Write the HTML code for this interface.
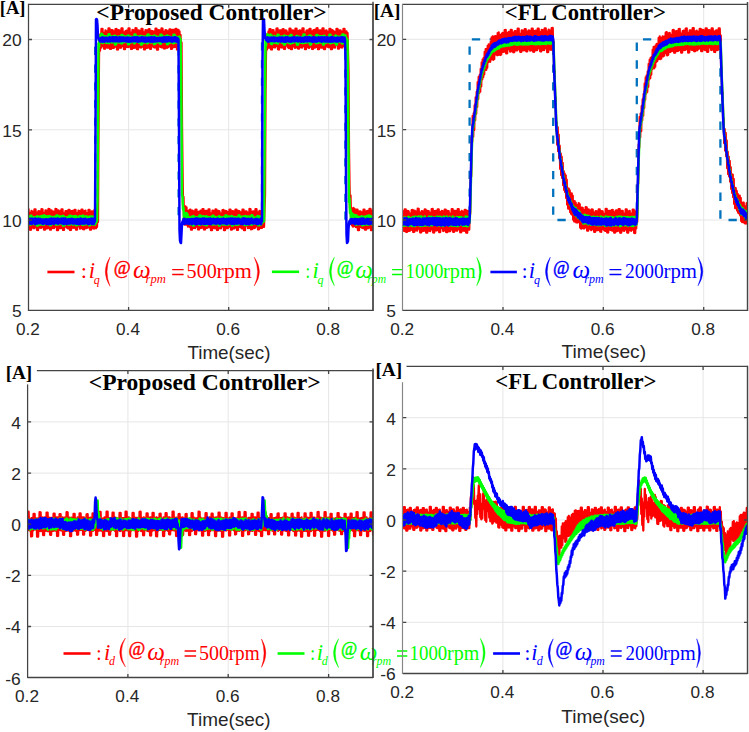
<!DOCTYPE html><html><head><meta charset="utf-8"><style>html,body{margin:0;padding:0;background:#fff;overflow:hidden}svg{display:block}</style></head><body>
<svg width="749" height="732" viewBox="0 0 749 732">
<defs><clipPath id="cTL"><rect x="28.5" y="4.3" width="344.5" height="306.1"/></clipPath><clipPath id="cTR"><rect x="402.7" y="4.4" width="344.8" height="306.0"/></clipPath><clipPath id="cBL"><rect x="27.6" y="370.6" width="345.4" height="306.9"/></clipPath><clipPath id="cBR"><rect x="402.8" y="366.4" width="344.7" height="307.1"/></clipPath></defs>
<rect width="749" height="732" fill="#fff"/>
<path d="M128.6 4.3V310.4M228.7 4.3V310.4M328.7 4.3V310.4M28.5 220.1H373.0M28.5 129.8H373.0M28.5 39.5H373.0" stroke="#e6e6e6" stroke-width="1" fill="none"/>
<path d="M503.0 4.4V310.4M603.3 4.4V310.4M703.7 4.4V310.4M402.7 220.0H747.5M402.7 129.7H747.5M402.7 39.3H747.5" stroke="#e6e6e6" stroke-width="1" fill="none"/>
<path d="M127.9 370.6V677.5M228.2 370.6V677.5M328.6 370.6V677.5M27.6 626.5H373.0M27.6 575.3H373.0M27.6 524.2H373.0M27.6 473.1H373.0M27.6 421.9H373.0" stroke="#e6e6e6" stroke-width="1" fill="none"/>
<path d="M502.9 366.4V673.5M603.0 366.4V673.5M703.1 366.4V673.5M402.8 622.3H747.5M402.8 571.2H747.5M402.8 520.0H747.5M402.8 468.8H747.5M402.8 417.7H747.5" stroke="#e6e6e6" stroke-width="1" fill="none"/>
<g clip-path="url(#cTL)"><path d="M28.5,220.1H95.2V39.5H178.6V220.1H262.0V39.5H345.4V220.1H375.0" fill="none" stroke="#0072bd" stroke-width="2.3" stroke-dasharray="8.3 9.45" stroke-dashoffset="16.65"/><polyline points="27.5,209.2 28,226.6 28.5,209.2 29,226.4 29.5,212.6 30,229.8 30.5,213.2 31,229.8 31.5,211 32,227.1 32.5,211.6 33,227.7 33.5,213.4 34,228.3 34.5,209.4 35,225.6 35.5,209.4 36,227.4 36.5,212.3 37,229.9 37.5,213.3 38,230.1 38.5,211.1 39,225.6 39.5,211.4 40,227.7 40.5,213.5 41,228 41.5,209.2 42,227.2 42.5,209.3 43,226.8 43.5,212.6 44,229.7 44.5,212.7 45,229.7 45.5,210.5 46,227.5 46.5,210.7 47,228.4 47.5,213 48,228 48.5,208.9 49,225.7 49.5,209.1 50,229.6 50.5,211.9 51,229.6 51.5,210.4 52,227.2 52.5,211.3 53,227.9 53.5,211.8 54,228.2 54.5,211.7 55,226.3 55.5,209 56,226.8 56.5,209.2 57,230.1 57.5,213.4 58,230.1 58.5,210.4 59,227 59.5,211.1 60,228.1 60.5,213.4 61,228 61.5,209.4 62,225.9 62.5,209.4 63,229.9 63.5,213.2 64,229.9 64.5,213.3 65,226.8 65.5,211.2 66,226.4 66.5,211.1 67,227.8 67.5,211.7 68,228.4 68.5,209.9 69,227.3 69.5,209.9 70,230 70.5,211.9 71,229.9 71.5,211.1 72,227.5 72.5,211 73,227.8 73.5,212.1 74,227.8 74.5,209.8 75,225.7 75.5,209.9 76,229.6 76.5,213.1 77,229.6 77.5,212.9 78,226.4 78.5,210.7 79,226.5 79.5,211.1 80,228.7 80.5,213.2 81,228.1 81.5,209.6 82,227.1 82.5,209.7 83,229.2 83.5,212.1 84,229.4 84.5,211.2 85,227.4 85.5,210.6 86,228.3 86.5,212.8 87,227.9 87.5,213.5 88,227.4 88.5,210 89,226.9 89.5,210 90,229.6 90.5,212.4 91,229.6 91.5,211.3 92,226.9 92.5,211.4 93,228.1 93.5,212.5 94,228.6 94.5,209.8 95,226.1 95.5,209.4 96,228.3 96.5,211.9 97,227 97.5,209.8 98,222.1 98.5,126.4 99,56.3 99.5,36 100,50.6 100.5,34.2 101,47.8 101.5,28.8 102,46.2 102.5,28.8 103,46.1 103.5,32.7 104,48.7 104.5,33 105,48.8 105.5,30.4 106,46.8 106.5,31.1 107,47.5 107.5,32 108,47.6 108.5,28.5 109,46.9 109.5,28.5 110,48.9 110.5,31.5 111,48.9 111.5,30.2 112,46.3 112.5,30.1 113,48 113.5,32.3 114,47.8 114.5,31.2 115,46.6 115.5,29.1 116,46.5 116.5,29 117,49.5 117.5,31.8 118,49.5 118.5,30.1 119,46.1 119.5,30.6 120,47.6 120.5,31 121,47.8 121.5,28.4 122,45.7 122.5,28.4 123,46.1 123.5,32.1 124,49.1 124.5,32.8 125,49.1 125.5,31.1 126,46.1 126.5,30.6 127,46.9 127.5,31.6 128,47.2 128.5,28.5 129,46.7 129.5,28.5 130,44.9 130.5,32.4 131,49 131.5,32.6 132,48.9 132.5,30 133,46.2 133.5,30.5 134,47.9 134.5,32.3 135,47.7 135.5,28.2 136,45.8 136.5,28.4 137,49.2 137.5,31.2 138,49.3 138.5,30.5 139,45.5 139.5,31 140,47.2 140.5,31.3 141,47.6 141.5,29 142,46.8 142.5,29 143,45.3 143.5,32.1 144,49.4 144.5,32.6 145,49.4 145.5,30.2 146,45.9 146.5,30.5 147,47.9 147.5,31 148,47.5 148.5,29.3 149,45 149.5,29.1 150,48.8 150.5,31.6 151,48.9 151.5,30.8 152,46.5 152.5,31.1 153,45.2 153.5,32.1 154,47.3 154.5,31.4 155,47.5 155.5,28.7 156,45 156.5,28.7 157,49.6 157.5,31.7 158,49.6 158.5,30.2 159,46.8 159.5,30.4 160,45.3 160.5,32.1 161,47.2 161.5,28.5 162,47.5 162.5,28.6 163,45.3 163.5,32.5 164,48.5 164.5,31.6 165,48.5 165.5,30.1 166,46.4 166.5,30.3 167,47.9 167.5,31.2 168,47.3 168.5,31.1 169,46.4 169.5,29.4 170,45.8 170.5,29.3 171,48.9 171.5,32.2 172,48.8 172.5,30 173,46.5 173.5,29.9 174,47.2 174.5,31.7 175,46.9 175.5,28.9 176,46.5 176.5,28.9 177,49.5 177.5,32.6 178,49.4 178.5,29.9 179,47.3 179.5,31.5 180,48.3 180.5,34.8 181,51.1 181.5,42.3 182,124.5 182.5,168.6 183,205.3 183.5,196.9 184,219.5 184.5,207.3 185,224.8 185.5,206.3 186,221.9 186.5,207.4 187,224.9 187.5,210.9 188,226.7 188.5,212.3 189,225.4 189.5,209.8 190,227 190.5,209.7 191,229.7 191.5,211.7 192,229.7 192.5,210.6 193,225.7 193.5,211.3 194,227.9 194.5,213 195,228.2 195.5,209.6 196,226.6 196.5,209.6 197,226.6 197.5,213 198,229.4 198.5,211.9 199,229.5 199.5,211.6 200,227.2 200.5,210.7 201,228 201.5,212.5 202,227.7 202.5,209.2 203,226.5 203.5,209.2 204,229.5 204.5,211.7 205,229.5 205.5,211 206,227.1 206.5,210.9 207,227.9 207.5,212.2 208,227.4 208.5,209.5 209,226.3 209.5,209.5 210,227.4 210.5,213.1 211,230.2 211.5,213.3 212,230.2 212.5,210.6 213,227.3 213.5,210.9 214,228 214.5,213.2 215,228.3 215.5,209.5 216,225.8 216.5,209.6 217,230 217.5,213.2 218,229.9 218.5,211 219,226.2 219.5,211.3 220,228.2 220.5,213.4 221,228.4 221.5,213.4 222,226.5 222.5,210.1 223,225.9 223.5,210 224,230.2 224.5,212.9 225,230.2 225.5,210.8 226,225.8 226.5,211.1 227,228.1 227.5,212.3 228,228 228.5,211.9 229,226.7 229.5,209.6 230,226 230.5,209.6 231,229.6 231.5,211.8 232,229.5 232.5,211.2 233,227.4 233.5,211.3 234,228.5 234.5,211.8 235,227.6 235.5,209.6 236,227 236.5,209.6 237,229.9 237.5,211.9 238,229.9 238.5,210.8 239,225.8 239.5,211.3 240,226.9 240.5,213.6 241,227.6 241.5,212.2 242,228.4 242.5,209.6 243,225.7 243.5,209.6 244,230.1 244.5,212.6 245,230.1 245.5,211.3 246,225.7 246.5,211.4 247,225.6 247.5,212.5 248,228.2 248.5,212.5 249,227.9 249.5,209 250,225.9 250.5,209.2 251,229.4 251.5,211.8 252,229.1 252.5,211.7 253,227.4 253.5,211.3 254,228.2 254.5,212.9 255,227.8 255.5,209.2 256,226.4 256.5,209.2 257,225.5 257.5,212.2 258,229.4 258.5,213.2 259,229.3 259.5,210.8 260,226.3 260.5,211.4 261,228 261.5,212.6 262,227.9 262.5,209.2 263,225.8 263.5,207.9 264,226.9 264.5,209.1 265,195.2 265.5,92.1 266,52.5 266.5,34.8 267,49.5 267.5,33.6 268,47.7 268.5,31.5 269,47.6 269.5,29.2 270,45.7 270.5,29.2 271,49.4 271.5,31.6 272,49.5 272.5,30.2 273,45.7 273.5,30.2 274,47.1 274.5,32.3 275,47.5 275.5,33 276,45.6 276.5,28.6 277,46.2 277.5,28.5 278,49.3 278.5,31.7 279,49.5 279.5,30.3 280,46 280.5,30.5 281,47.3 281.5,31 282,47.5 282.5,29.3 283,46.4 283.5,29.2 284,48.9 284.5,31.8 285,49 285.5,30.5 286,45.7 286.5,30.7 287,45.3 287.5,32.3 288,47.4 288.5,32.5 289,48.1 289.5,28.7 290,45.9 290.5,28.7 291,49.2 291.5,31 292,49.2 292.5,30.3 293,45.1 293.5,30.6 294,46.4 294.5,32.9 295,47.9 295.5,28.6 296,47.4 296.5,28.6 297,45.9 297.5,31.8 298,48.5 298.5,31.1 299,48.6 299.5,30.5 300,46.1 300.5,30.6 301,47.3 301.5,31.7 302,47.6 302.5,28.4 303,46.3 303.5,28.4 304,44.9 304.5,32.5 305,49.2 305.5,32.7 306,49.2 306.5,30.7 307,46.7 307.5,30.3 308,47.2 308.5,31 309,48 309.5,28.8 310,46.7 310.5,28.8 311,45.9 311.5,31.1 312,48.9 312.5,32 313,49 313.5,30.2 314,45.8 314.5,29.9 315,47.6 315.5,31.8 316,46.9 316.5,28.3 317,45.8 317.5,28.2 318,49.1 318.5,31.9 319,49.1 319.5,30.4 320,46.2 320.5,30.3 321,47.5 321.5,31.8 322,47.6 322.5,28.4 323,46 323.5,28.5 324,49.2 324.5,31.5 325,49.2 325.5,31 326,46.7 326.5,30.3 327,46.2 327.5,32.3 328,47 328.5,31.6 329,47.3 329.5,28.8 330,46.2 330.5,28.8 331,49.3 331.5,32.5 332,49.2 332.5,30.1 333,46.7 333.5,31 334,47.4 334.5,32.5 335,47.7 335.5,31.8 336,45.1 336.5,28.9 337,45.1 337.5,28.9 338,48.7 338.5,31.9 339,48.7 339.5,30.3 340,45.9 340.5,30.4 341,47.1 341.5,31.5 342,47.7 342.5,32.9 343,45.2 343.5,28.8 344,46.2 344.5,28.8 345,49.2 345.5,32.3 346,49.9 346.5,31.5 347,47.7 347.5,32.9 348,51.2 348.5,71.4 349,149.6 349.5,184.6 350,208.5 350.5,195.5 351,218.4 351.5,208.3 352,225.4 352.5,209.4 353,226.6 353.5,208 354,224.1 354.5,208.9 355,226.3 355.5,211.3 356,227.2 356.5,209.7 357,226.8 357.5,209.7 358,230.2 358.5,212.2 359,230.1 359.5,211.4 360,225.8 360.5,211.3 361,227 361.5,212.9 362,227.8 362.5,212.2 363,228.2 363.5,209.7 364,227.4 364.5,209.7 365,229.7 365.5,212 366,229.7 366.5,211.5 367,226.3 367.5,210.8 368,228.3 368.5,213.1 369,227.7 369.5,208.9 370,226.2 370.5,208.9 371,230.2 371.5,213.2 372,230.1 372.5,210.7 373,226.6 373.5,210.6 374,226.6" fill="none" stroke="#ff0000" stroke-width="2.3" stroke-linejoin="round"/><polyline points="27.5,216.6 28,223.7 28.5,216.8 29,224.5 29.5,217.8 30,224.5 30.5,215.7 31,224.4 31.5,215.7 32,224 32.5,217.6 33,224 33.5,217.4 34,224 34.5,217.3 35,224.2 35.5,217.8 36,224.2 36.5,216.7 37,225.4 37.5,216.3 38,225.4 38.5,217.1 39,224.1 39.5,216.7 40,224.4 40.5,216.6 41,223.9 41.5,216.1 42,224.5 42.5,216.4 43,224.6 43.5,215.6 44,224.7 44.5,215.6 45,224 45.5,217 46,223.8 46.5,216.3 47,223.6 47.5,217.8 48,224.3 48.5,216.3 49,224.3 49.5,216.1 50,225.3 50.5,216.4 51,225.2 51.5,217.7 52,223.3 52.5,217.1 53,223.9 53.5,217.2 54,223.2 54.5,216.7 55,224 55.5,217.4 56,224.6 56.5,215.6 57,224.5 57.5,215.6 58,224.6 58.5,216.2 59,224.2 59.5,216.4 60,223.8 60.5,216.5 61,223.4 61.5,216.6 62,224 62.5,215.9 63,225.6 63.5,216 64,225.6 64.5,216.9 65,224.7 65.5,217.9 66,223.5 66.5,217.3 67,223.6 67.5,217.8 68,224.6 68.5,216.4 69,224.5 69.5,215.8 70,224.6 70.5,215.8 71,223.1 71.5,216.3 72,223.6 72.5,217 73,224.7 73.5,216.2 74,223.9 74.5,217.5 75,223.6 75.5,215.9 76,225.2 76.5,216.6 77,225.2 77.5,217.2 78,223.9 78.5,217.6 79,224.6 79.5,216.1 80,223.4 80.5,216.8 81,223.4 81.5,216.3 82,224.4 82.5,215.8 83,224.9 83.5,215.8 84,224.6 84.5,216.4 85,224.3 85.5,217.6 86,224.3 86.5,216.2 87,223.8 87.5,217.7 88,223.4 88.5,217.3 89,225.2 89.5,216.6 90,225.2 90.5,216.5 91,224.2 91.5,216.5 92,223.7 92.5,216.7 93,224.6 93.5,216.8 94,223.5 94.5,217.3 95,224.7 95.5,214.9 96,223 96.5,213.2 97,221.2 97.5,199.9 98,120.7 98.5,43.6 99,46.8 99.5,39.5 100,42.2 100.5,34.9 101,40 101.5,33.7 102,42.5 102.5,34.4 103,43.1 103.5,36.3 104,41.3 104.5,36.3 105,41.6 105.5,36.2 106,42.9 106.5,37.4 107,42.2 107.5,36.4 108,43.1 108.5,34.4 109,43.2 109.5,34.3 110,42.3 110.5,36.6 111,42.1 111.5,36.5 112,42.6 112.5,36.7 113,42.3 113.5,36.3 114,42.5 114.5,35.8 115,44.5 115.5,36 116,44.5 116.5,37.2 117,42.4 117.5,37.1 118,42.2 118.5,36.4 119,42.6 119.5,36.4 120,41.9 120.5,36.8 121,43.2 121.5,34.9 122,43.4 122.5,35 123,42.4 123.5,36.5 124,42.3 124.5,36.2 125,41.8 125.5,37.2 126,41.6 126.5,36.8 127,42.2 127.5,35.8 128,44.3 128.5,35.5 129,44.2 129.5,36.2 130,42.3 130.5,36.7 131,42.6 131.5,37.1 132,41.8 132.5,37 133,41.6 133.5,37 134,43.4 134.5,34.6 135,43.2 135.5,34.6 136,41.7 136.5,36.3 137,41.8 137.5,37.1 138,41.8 138.5,36.5 139,42.7 139.5,36.4 140,41.6 140.5,35.9 141,44.5 141.5,36 142,44.5 142.5,37.4 143,42.2 143.5,36.4 144,42.9 144.5,37.2 145,42.2 145.5,36.4 146,41.6 146.5,37.1 147,43.5 147.5,34.7 148,43.1 148.5,34.6 149,42.1 149.5,37.3 150,41.6 150.5,36.1 151,42.6 151.5,36.4 152,41.9 152.5,37.1 153,42.3 153.5,36 154,44.1 154.5,35.5 155,44.1 155.5,37 156,42.9 156.5,36.6 157,41.6 157.5,36.9 158,42.5 158.5,37.4 159,42 159.5,36.5 160,43.7 160.5,34.7 161,43.7 161.5,34.7 162,42.1 162.5,36.3 163,42.1 163.5,36.4 164,41.9 164.5,37 165,41.8 165.5,36.7 166,41.8 166.5,35.7 167,44.1 167.5,35.6 168,44.2 168.5,36.8 169,42.9 169.5,36.5 170,42.7 170.5,37.2 171,42.1 171.5,37.3 172,42.5 172.5,36.9 173,43.2 173.5,34.7 174,43.2 174.5,34.7 175,42.1 175.5,36.2 176,42.5 176.5,37.1 177,42.1 177.5,37.2 178,42.8 178.5,36.9 179,44.1 179.5,36.6 180,46.6 180.5,38.9 181,70.6 181.5,125.8 182,195.4 182.5,196.3 183,209.2 183.5,207.6 184,218.7 184.5,213.1 185,219.6 185.5,213.8 186,221.1 186.5,213.1 187,222.7 187.5,214.2 188,222.7 188.5,216.8 189,224 189.5,217.6 190,224.3 190.5,217.4 191,224.3 191.5,216.7 192,223.3 192.5,216.6 193,225.5 193.5,216.1 194,225.5 194.5,217.2 195,224.6 195.5,217.5 196,223.6 196.5,217.3 197,223.4 197.5,217.8 198,223.1 198.5,216.8 199,224.7 199.5,215.5 200,225 200.5,215.4 201,224.2 201.5,216.3 202,223.4 202.5,216.7 203,224.2 203.5,216.2 204,224.6 204.5,217.5 205,224.2 205.5,216.6 206,225.3 206.5,216.3 207,225.2 207.5,217.2 208,223.6 208.5,217 209,223.5 209.5,217.6 210,223.8 210.5,217 211,223.4 211.5,216.7 212,224.3 212.5,215.7 213,224.4 213.5,215.7 214,223.3 214.5,216.9 215,224.3 215.5,216.9 216,224.3 216.5,217.8 217,223.7 217.5,217.2 218,223.2 218.5,216.4 219,225.6 219.5,216.3 220,225.5 220.5,217 221,223.6 221.5,217.4 222,223.1 222.5,217.3 223,224.6 223.5,216.9 224,223.5 224.5,216.7 225,224.5 225.5,215.6 226,224.8 226.5,215.6 227,223.7 227.5,216.9 228,224.7 228.5,216.5 229,224.1 229.5,216.8 230,223.8 230.5,217.1 231,223.5 231.5,216 232,225.4 232.5,216.4 233,225.4 233.5,217.8 234,223.3 234.5,217 235,223.6 235.5,217.2 236,224.8 236.5,217.6 237,223.4 237.5,217.5 238,224.8 238.5,215.6 239,224.3 239.5,215.6 240,223.7 240.5,217.4 241,223.9 241.5,216.7 242,224 242.5,216.8 243,224 243.5,216.4 244,224.7 244.5,216.5 245,225.1 245.5,216 246,225.1 246.5,216.6 247,224.3 247.5,216.7 248,224.7 248.5,216.4 249,223.3 249.5,216.8 250,223.9 250.5,216.9 251,224.5 251.5,215.3 252,224.8 252.5,215.4 253,223.5 253.5,217.4 254,223.6 254.5,217.6 255,224 255.5,217.6 256,223.2 256.5,217.7 257,223.2 257.5,216.1 258,225.2 258.5,216.3 259,225.3 259.5,217 260,223.3 260.5,216.4 261,224.6 261.5,217.8 262,223.5 262.5,216.9 263,222 263.5,215.4 264,221.2 264.5,164.5 265,88.1 265.5,40.6 266,45.6 266.5,37.6 267,41.6 267.5,34.3 268,40.5 268.5,35.3 269,41.1 269.5,35.4 270,41.7 270.5,34.6 271,43.6 271.5,35.3 272,44.1 272.5,37.1 273,41.8 273.5,37.4 274,42.4 274.5,36.1 275,42.9 275.5,37.3 276,42.5 276.5,36.9 277,43.3 277.5,34.7 278,43.6 278.5,34.7 279,41.6 279.5,36.5 280,41.7 280.5,37.4 281,42 281.5,36.4 282,42.9 282.5,37.3 283,42 283.5,35.9 284,44.6 284.5,35.6 285,44.6 285.5,37 286,42.7 286.5,36.3 287,41.9 287.5,36.9 288,42.4 288.5,36.4 289,42.9 289.5,36.9 290,43.5 290.5,34.9 291,43.5 291.5,34.9 292,41.8 292.5,37.3 293,42.8 293.5,37.1 294,42.2 294.5,37.3 295,42 295.5,37.4 296,42.3 296.5,36.1 297,44.6 297.5,36 298,44.7 298.5,36.8 299,42.1 299.5,37.1 300,41.6 300.5,37.4 301,42.8 301.5,37 302,41.7 302.5,37.2 303,43.3 303.5,34.5 304,43.1 304.5,34.5 305,42.2 305.5,36.9 306,42.7 306.5,36.9 307,41.6 307.5,36.7 308,42.5 308.5,36.6 309,41.9 309.5,35.4 310,44.5 310.5,35.4 311,44.5 311.5,36.3 312,42.6 312.5,37.2 313,41.6 313.5,37.2 314,41.7 314.5,37.3 315,42.1 315.5,36.4 316,43.3 316.5,34.9 317,43.1 317.5,35 318,42.9 318.5,37.4 319,42.3 319.5,36.3 320,42.6 320.5,36.4 321,42.1 321.5,36.3 322,42.7 322.5,36.4 323,44.4 323.5,36 324,44.4 324.5,35.8 325,42.5 325.5,37.1 326,42.8 326.5,37.4 327,42.4 327.5,37.1 328,42.1 328.5,36.9 329,42.5 329.5,34.7 330,43.2 330.5,34.7 331,43.2 331.5,37.1 332,42.8 332.5,37 333,41.7 333.5,37 334,42.6 334.5,37.2 335,42.6 335.5,35.6 336,44.5 336.5,35.9 337,44.5 337.5,37.2 338,42 338.5,36.8 339,41.6 339.5,36.8 340,42.1 340.5,37 341,42.3 341.5,36.1 342,43.3 342.5,34.4 343,43.4 343.5,34.4 344,41.7 344.5,36.1 345,42.1 345.5,35.4 346,43.4 346.5,38 347,45.9 347.5,40 348,94.2 348.5,150.9 349,202 349.5,198.6 350,213 350.5,209.6 351,219.8 351.5,213.1 352,220.2 352.5,213.8 353,221.3 353.5,215.2 354,222.4 354.5,215.1 355,223.9 355.5,215.3 356,224.7 356.5,215.4 357,224.3 357.5,216.4 358,224.3 358.5,217.1 359,224.2 359.5,217.1 360,223.7 360.5,217.5 361,224.1 361.5,216.2 362,225.2 362.5,216.7 363,225.2 363.5,217.1 364,224.1 364.5,216.8 365,224.7 365.5,217.6 366,223.9 366.5,216.1 367,224.3 367.5,217.3 368,224.8 368.5,215.6 369,224.5 369.5,215.7 370,223.3 370.5,216.1 371,223.9 371.5,217.5 372,224.5 372.5,216.7 373,224.7 373.5,216.4 374,224.4" fill="none" stroke="#00ff00" stroke-width="2.5" stroke-linejoin="round"/><polyline points="27.5,219.3 28,223.9 28.5,219.7 29,223.2 29.5,218.9 30,223.8 30.5,218.8 31,223.3 31.5,218.7 32,223.9 32.5,218.8 33,223.1 33.5,219.2 34,223 34.5,218.7 35,224.2 35.5,218.6 36,223 36.5,219.3 37,223.7 37.5,219.1 38,223.1 38.5,218.7 39,223.3 39.5,219.1 40,223.1 40.5,219 41,223.1 41.5,219.7 42,223.6 42.5,219.4 43,224 43.5,219.5 44,223.5 44.5,219.7 45,223.2 45.5,219.2 46,223.7 46.5,219.2 47,224.1 47.5,219.6 48,224.1 48.5,219.6 49,224.2 49.5,219.1 50,223.5 50.5,219 51,224.1 51.5,218.5 52,223.5 52.5,219.8 53,223.2 53.5,218.7 54,223.9 54.5,218.8 55,223.2 55.5,219.1 56,223 56.5,219.6 57,223.3 57.5,218.5 58,223.8 58.5,218.7 59,223 59.5,219.2 60,223.1 60.5,219.4 61,223.1 61.5,218.6 62,223.4 62.5,219.1 63,223.8 63.5,218.6 64,224.2 64.5,219 65,223.6 65.5,218.6 66,223.5 66.5,219.4 67,223.9 67.5,219.4 68,223.4 68.5,219.2 69,223.6 69.5,219.3 70,223.5 70.5,219.2 71,223 71.5,218.7 72,223 72.5,219.1 73,223.7 73.5,219.3 74,223.2 74.5,219.6 75,223.4 75.5,219.4 76,223.6 76.5,219.5 77,223.9 77.5,219.1 78,223 78.5,219.2 79,224.2 79.5,219.8 80,223.7 80.5,218.5 81,223.4 81.5,219 82,223.4 82.5,219.4 83,223.7 83.5,219 84,223.4 84.5,219.1 85,223.6 85.5,218.8 86,223 86.5,219.7 87,223.3 87.5,219.4 88,224 88.5,219.2 89,224.1 89.5,219.3 90,223.3 90.5,218.9 91,223.1 91.5,218.5 92,224 92.5,219.3 93,223.4 93.5,218.7 94,224 94.5,218.9 95,221.6 95.5,126.7 96,19.5 96.5,19 97,19.6 97.5,25.4 98,37.5 98.5,38.2 99,39.5 99.5,39.2 100,41.4 100.5,38.2 101,41.6 101.5,37.8 102,41.5 102.5,37.2 103,41.8 103.5,38.1 104,41.6 104.5,37.7 105,41.6 105.5,37.8 106,41.3 106.5,37.7 107,40.9 107.5,37.9 108,41.6 108.5,38.1 109,40.9 109.5,37.3 110,41.5 110.5,37.6 111,40.9 111.5,38.1 112,41.1 112.5,37.2 113,41.4 113.5,37.2 114,41 114.5,37.8 115,41.4 115.5,37.3 116,40.9 116.5,37.3 117,41.3 117.5,38.2 118,41.2 118.5,37.8 119,41.5 119.5,37.2 120,41.3 120.5,37.5 121,41.2 121.5,37.4 122,40.9 122.5,37.4 123,41 123.5,37.6 124,41 124.5,37.8 125,41 125.5,37.8 126,41.4 126.5,37.7 127,41.2 127.5,37.6 128,41.7 128.5,37.8 129,41.4 129.5,37.7 130,41.8 130.5,37.9 131,41.5 131.5,38 132,41.1 132.5,37.4 133,41.4 133.5,37.9 134,40.9 134.5,37.3 135,41.2 135.5,37.5 136,41.2 136.5,37.6 137,41.4 137.5,37.2 138,41.8 138.5,37.7 139,41.3 139.5,38 140,41.6 140.5,38.1 141,41.1 141.5,37.3 142,40.8 142.5,37.5 143,41.4 143.5,37.6 144,41.1 144.5,38 145,41.8 145.5,37.4 146,41.6 146.5,38.1 147,41.6 147.5,38 148,41 148.5,37.6 149,41.4 149.5,38.1 150,41.6 150.5,37.6 151,41.7 151.5,37.2 152,41.5 152.5,37.8 153,41.8 153.5,37.4 154,41.1 154.5,37.3 155,41.6 155.5,37.9 156,41.1 156.5,38.2 157,41.4 157.5,37.9 158,41.1 158.5,37.9 159,40.9 159.5,37.7 160,41.1 160.5,37.9 161,41.1 161.5,37.7 162,41.7 162.5,38 163,41.7 163.5,37.3 164,41.4 164.5,37.6 165,41.6 165.5,37.6 166,41.5 166.5,37.2 167,41.6 167.5,37.9 168,40.8 168.5,37.2 169,41.2 169.5,37.4 170,41 170.5,37.7 171,41.2 171.5,37.4 172,41.8 172.5,37.7 173,41.4 173.5,37.8 174,41 174.5,37.2 175,40.9 175.5,37.2 176,41.5 176.5,38.1 177,41.7 177.5,38.1 178,41.4 178.5,39.3 179,129.9 179.5,230.4 180,240.7 180.5,242.5 181,243 181.5,233.5 182,223.6 182.5,221.5 183,221.7 183.5,218.9 184,224.1 184.5,218.8 185,223.6 185.5,219.7 186,223.6 186.5,219.5 187,223.6 187.5,219.3 188,223.6 188.5,219.5 189,223.9 189.5,219.2 190,223.6 190.5,219.7 191,223.6 191.5,219 192,224.2 192.5,219 193,223.1 193.5,219.4 194,223.4 194.5,218.9 195,224.2 195.5,218.5 196,224.2 196.5,218.6 197,224.1 197.5,218.6 198,223 198.5,219.1 199,223.7 199.5,218.9 200,223.8 200.5,219 201,224.2 201.5,219.7 202,223.6 202.5,218.5 203,223 203.5,219.6 204,224.1 204.5,218.5 205,223 205.5,219.7 206,224 206.5,218.9 207,223.6 207.5,219 208,223.9 208.5,218.7 209,223 209.5,219.7 210,224 210.5,218.5 211,224 211.5,219.2 212,223.4 212.5,219.3 213,223 213.5,218.8 214,223.3 214.5,219 215,223.6 215.5,219.3 216,223.8 216.5,219.2 217,223.3 217.5,218.6 218,223.2 218.5,219.6 219,223.3 219.5,219.2 220,224 220.5,219.3 221,223.3 221.5,218.9 222,223.3 222.5,219.1 223,223.3 223.5,218.6 224,223.2 224.5,219.5 225,223.3 225.5,219.3 226,223.9 226.5,218.9 227,224 227.5,219.1 228,223.1 228.5,218.8 229,223.3 229.5,219.5 230,223.5 230.5,218.5 231,223.4 231.5,219.3 232,224.1 232.5,218.5 233,223.5 233.5,219.6 234,224 234.5,218.8 235,223.4 235.5,218.7 236,223.4 236.5,219.4 237,223.7 237.5,218.8 238,223.6 238.5,218.7 239,223 239.5,219.1 240,223.4 240.5,219.7 241,224.1 241.5,219.6 242,223.2 242.5,218.6 243,224.2 243.5,218.6 244,223.4 244.5,218.6 245,223.1 245.5,218.8 246,224.2 246.5,219.5 247,223.1 247.5,218.9 248,224.1 248.5,218.8 249,224.2 249.5,219.2 250,223.4 250.5,219.6 251,223.3 251.5,218.6 252,223 252.5,219.5 253,223.4 253.5,219.7 254,223.4 254.5,219.5 255,223.1 255.5,219.1 256,223.7 256.5,219 257,223.9 257.5,219.1 258,224.2 258.5,219.7 259,223.2 259.5,219.7 260,223.4 260.5,218.8 261,224.2 261.5,219.1 262,221.6 262.5,59.4 263,19.6 263.5,19 264,19.6 264.5,30 265,38.2 265.5,38.4 266,39.8 266.5,39.2 267,41 267.5,37.2 268,41.8 268.5,38.2 269,41.6 269.5,37.8 270,40.8 270.5,38 271,41 271.5,37.4 272,41 272.5,38.2 273,41 273.5,37.4 274,41.3 274.5,37.5 275,41.3 275.5,38 276,40.8 276.5,37.9 277,40.8 277.5,37.9 278,41.4 278.5,37.8 279,41.3 279.5,37.5 280,41.1 280.5,37.8 281,41.7 281.5,37.6 282,41.2 282.5,37.6 283,41.3 283.5,37.9 284,41.8 284.5,38 285,41.8 285.5,37.3 286,41.7 286.5,38 287,41.3 287.5,37.2 288,41.1 288.5,38 289,41.6 289.5,38 290,41.4 290.5,38 291,41.8 291.5,37.9 292,40.9 292.5,37.5 293,41.2 293.5,37.6 294,41.3 294.5,37.2 295,41.3 295.5,37.8 296,40.8 296.5,37.7 297,41.1 297.5,37.6 298,41.5 298.5,37.7 299,40.9 299.5,37.7 300,41.3 300.5,37.5 301,41.8 301.5,37.9 302,41.3 302.5,38.1 303,41.6 303.5,38 304,41.7 304.5,37.4 305,41.1 305.5,37.3 306,41.3 306.5,37.8 307,41.4 307.5,37.2 308,41.3 308.5,37.7 309,41.1 309.5,37.3 310,41.3 310.5,37.8 311,41 311.5,38 312,41.7 312.5,37.4 313,41.8 313.5,37.2 314,41.5 314.5,37.4 315,41.5 315.5,37.4 316,41.6 316.5,38 317,41.7 317.5,37.9 318,41 318.5,37.2 319,40.8 319.5,37.7 320,41.2 320.5,37.4 321,41.4 321.5,37.2 322,41.8 322.5,37.5 323,40.9 323.5,37.5 324,40.9 324.5,37.2 325,41.7 325.5,37.9 326,41 326.5,37.5 327,41.6 327.5,37.2 328,41.4 328.5,38.1 329,41.6 329.5,38.1 330,41.7 330.5,37.4 331,41.6 331.5,37.3 332,41.4 332.5,37.2 333,41.5 333.5,37.7 334,41.2 334.5,37.8 335,40.8 335.5,38 336,41.6 336.5,38 337,41.5 337.5,37.4 338,41.5 338.5,37.7 339,41.1 339.5,37.9 340,41 340.5,37.5 341,41.5 341.5,37.2 342,41.1 342.5,37.2 343,41.8 343.5,37.9 344,41.8 344.5,37.6 345,39.9 345.5,58.1 346,177.2 346.5,234.3 347,243 347.5,242.4 348,241 348.5,228.6 349,223.1 349.5,221.1 350,223.9 350.5,219.5 351,223.2 351.5,219 352,223.3 352.5,219.3 353,223 353.5,219.7 354,223.4 354.5,219.1 355,224.2 355.5,218.9 356,223.5 356.5,219.2 357,223.3 357.5,219.2 358,224.2 358.5,219.6 359,223.5 359.5,218.9 360,223.9 360.5,219.1 361,223.8 361.5,218.6 362,224.1 362.5,219.4 363,223.7 363.5,218.5 364,223.6 364.5,219.5 365,223.9 365.5,219.7 366,223.1 366.5,219.1 367,223.3 367.5,218.8 368,223.9 368.5,219.4 369,224 369.5,218.9 370,223.9 370.5,219.2 371,223.5 371.5,219.6 372,223.6 372.5,218.5 373,224.1 373.5,219.7 374,223" fill="none" stroke="#0000ff" stroke-width="2.5" stroke-linejoin="round"/></g>
<g clip-path="url(#cTR)"><path d="M402.7,220.0H469.6V39.3H553.2V220.0H636.8V39.3H720.4V220.0H749.5" fill="none" stroke="#0072bd" stroke-width="2.3" stroke-dasharray="8.3 9.45" stroke-dashoffset="16.4"/><polyline points="401.7,211.2 402.2,229.3 402.7,211.1 403.2,230.5 403.7,213.2 404.2,231 404.7,209.3 405.2,228.6 405.7,209.3 406.2,232 406.7,212.8 407.2,231.8 407.7,210.9 408.2,228 408.7,211.5 409.2,230.9 409.7,214.1 410.2,230.5 410.7,213.3 411.2,228.8 411.7,210.1 412.2,229.9 412.7,209.8 413.2,232 413.7,212.8 414.2,231.9 414.7,210.6 415.2,228 415.7,211.3 416.2,230.4 416.7,212.2 417.2,230.7 417.7,208.7 418.2,228.6 418.7,208.9 419.2,228.3 419.7,212.4 420.2,232.5 420.7,213.2 421.2,232.4 421.7,211.2 422.2,228.8 422.7,211.3 423.2,230.9 423.7,213.2 424.2,230.6 424.7,209.5 425.2,228.8 425.7,209.6 426.2,232.7 426.7,213.2 427.2,232.7 427.7,211 428.2,229.9 428.7,211.1 429.2,230.8 429.7,212.7 430.2,231.2 430.7,213.5 431.2,229.4 431.7,209.1 432.2,229.2 432.7,209 433.2,232.5 433.7,212.7 434.2,232.5 434.7,211.1 435.2,228.9 435.7,210.8 436.2,230.5 436.7,212.6 437.2,230.1 437.7,209.3 438.2,229.5 438.7,209.3 439.2,232.1 439.7,213.7 440.2,232 440.7,211.9 441.2,228.2 441.7,211 442.2,227.9 442.7,211.4 443.2,231 443.7,212.3 444.2,230.5 444.7,209.7 445.2,229.3 445.7,209.7 446.2,232.2 446.7,212.9 447.2,232.1 447.7,211 448.2,229 448.7,211.2 449.2,231.3 449.7,213.9 450.2,231.1 450.7,213.4 451.2,229.4 451.7,209.2 452.2,228.3 452.7,209.2 453.2,231.9 453.7,213.1 454.2,231.8 454.7,210.9 455.2,229.7 455.7,210.8 456.2,230.5 456.7,212.4 457.2,230.7 457.7,209.2 458.2,229.1 458.7,209.2 459.2,228.9 459.7,211.9 460.2,232.3 460.7,212 461.2,232.3 461.7,211 462.2,227.9 462.7,211.6 463.2,230.7 463.7,212.6 464.2,230.8 464.7,210 465.2,228.3 465.7,210 466.2,232.7 466.7,214.1 467.2,232.8 467.7,210.8 468.2,228.1 468.7,211.1 469.2,229.7 469.7,212.1 470.2,213.8 470.7,177.1 471.2,176.4 471.7,138 472.2,141.7 472.7,115.8 473.2,136.7 473.7,113.4 474.2,130.1 474.7,105.3 475.2,120.1 475.7,97.4 476.2,113.8 476.7,92 477.2,106.9 477.7,82.1 478.2,99 478.7,76.9 479.2,93 479.7,75.1 480.2,91.7 480.7,68.8 481.2,86.6 481.7,62.4 482.2,79.5 482.7,59.5 483.2,77.3 483.7,58 484.2,74.4 484.7,51.9 485.2,69.4 485.7,49.1 486.2,69.9 486.7,49 487.2,67.8 487.7,45.8 488.2,62.2 488.7,44.4 489.2,61.7 489.7,45.2 490.2,61.8 490.7,42 491.2,59.4 491.7,37.3 492.2,55.5 492.7,36.3 493.2,59.8 493.7,39 494.2,59.2 494.7,36.5 495.2,54.5 495.7,36.2 496.2,52.9 496.7,38.8 497.2,55.3 497.7,33.1 498.2,54.9 498.7,32.5 499.2,51.1 499.7,36.9 500.2,55 500.7,35 501.2,54.5 501.7,33.7 502.2,51 502.7,32.9 503.2,51.9 503.7,34.6 504.2,51.7 504.7,30.1 505.2,49.8 505.7,29.9 506.2,53.4 506.7,34.5 507.2,53.3 507.7,32.8 508.2,49.2 508.7,31.9 509.2,48.9 509.7,34.4 510.2,51.6 510.7,30 511.2,51.1 511.7,29.8 512.2,49.8 512.7,32.5 513.2,52.3 513.7,32.5 514.2,52.2 514.7,31.1 515.2,48.3 515.7,31.2 516.2,50.4 516.7,32.7 517.2,50.4 517.7,28.6 518.2,49.1 518.7,28.7 519.2,47.8 519.7,33.7 520.2,51.8 520.7,33.6 521.2,51.9 521.7,30.3 522.2,47.9 522.7,30.7 523.2,50.4 523.7,31.8 524.2,50.2 524.7,29.2 525.2,48.9 525.7,29.2 526.2,51.3 526.7,32.3 527.2,51.4 527.7,31.3 528.2,49.2 528.7,30.3 529.2,47.3 529.7,31 530.2,50.7 530.7,32.3 531.2,50.3 531.7,28.7 532.2,49 532.7,28.7 533.2,51.8 533.7,33.3 534.2,51.8 534.7,31.2 535.2,47.3 535.7,30.7 536.2,50.1 536.7,33.1 537.2,50 537.7,28.7 538.2,47.9 538.7,28.7 539.2,48.2 539.7,32 540.2,51.3 540.7,32.3 541.2,51.4 541.7,29.9 542.2,47.3 542.7,30.2 543.2,50 543.7,32.5 544.2,50 544.7,28.3 545.2,46.8 545.7,28.3 546.2,48.2 546.7,32.7 547.2,52.1 547.7,31.4 548.2,52 548.7,29.6 549.2,47.9 549.7,30.4 550.2,49.5 550.7,32.5 551.2,49.8 551.7,28.1 552.2,48.4 552.7,27.9 553.2,52 553.7,41.7 554.2,78.7 554.7,71.1 555.2,100.9 555.7,97.5 556.2,130.3 556.7,122.4 557.2,144.8 557.7,127.2 558.2,151.2 558.7,134.7 559.2,158.3 559.7,145.7 560.2,169.1 560.7,153.5 561.2,175.1 561.7,156.7 562.2,178 562.7,162.8 563.2,185.1 563.7,171.1 564.2,190 564.7,173.7 565.2,192.1 565.7,175.4 566.2,198 566.7,179.7 567.2,204.7 567.7,188.5 568.2,208.6 568.7,188.6 569.2,208.3 569.7,190.5 570.2,212.1 570.7,194.7 571.2,213.9 571.7,193.4 572.2,214.8 572.7,195.7 573.2,219.8 573.7,201.8 574.2,221.5 574.7,201.2 575.2,218.1 575.7,202.7 576.2,222.4 576.7,205 577.2,222.5 577.7,206.5 578.2,222.2 578.7,203.1 579.2,222.2 579.7,204.1 580.2,227.7 580.7,207.9 581.2,228.6 581.7,207.6 582.2,225 582.7,208 583.2,228.3 583.7,210 584.2,228.4 584.7,211.7 585.2,226.8 585.7,207.1 586.2,227.4 586.7,207.3 587.2,230.7 587.7,211.1 588.2,230.7 588.7,209.4 589.2,226.9 589.7,210.3 590.2,228.8 590.7,213.2 591.2,230.1 591.7,209.3 592.2,227.3 592.7,209.6 593.2,229.2 593.7,212.5 594.2,231.9 594.7,214 595.2,231.8 595.7,211.1 596.2,228.2 596.7,211.3 597.2,230.1 597.7,212.7 598.2,230 598.7,209.3 599.2,228.9 599.7,209.4 600.2,231.7 600.7,212.9 601.2,231.9 601.7,211.1 602.2,228.8 602.7,211.5 603.2,229.1 603.7,213.7 604.2,230.2 604.7,214.2 605.2,230.9 605.7,209 606.2,228.6 606.7,209 607.2,232.5 607.7,213.9 608.2,232.5 608.7,211 609.2,228.6 609.7,211 610.2,229.8 610.7,214.1 611.2,230.1 611.7,210.1 612.2,230.7 612.7,209.9 613.2,229.3 613.7,212.1 614.2,232.6 614.7,213.3 615.2,232.5 615.7,210.7 616.2,228 616.7,210.5 617.2,231.1 617.7,212.2 618.2,230.7 618.7,209.1 619.2,229.9 619.7,209.2 620.2,232.8 620.7,212.2 621.2,232.7 621.7,210.9 622.2,229.2 622.7,210.8 623.2,230.5 623.7,213.3 624.2,230.9 624.7,213.9 625.2,229.5 625.7,209.5 626.2,229.1 626.7,209.5 627.2,232.6 627.7,212.8 628.2,232.6 628.7,211.4 629.2,229.7 629.7,210.8 630.2,230.3 630.7,213.4 631.2,230.8 631.7,213.7 632.2,229.6 632.7,209.6 633.2,229 633.7,209.6 634.2,233 634.7,214.2 635.2,233 635.7,211.5 636.2,228.4 636.7,210.7 637.2,221.9 637.7,185.3 638.2,183.5 638.7,144.5 639.2,147.8 639.7,116.9 640.2,137.6 640.7,113.6 641.2,131.2 641.7,106.2 642.2,120.5 642.7,99.4 643.2,115.6 643.7,94 644.2,108.1 644.7,83.4 645.2,99.8 645.7,77.5 646.2,93.4 646.7,75.4 647.2,91.9 647.7,71.6 648.2,86.9 648.7,63.9 649.2,79.5 649.7,59.7 650.2,78.2 650.7,57.8 651.2,74.7 651.7,56.9 652.2,69.3 652.7,49.7 653.2,68.2 653.7,46.8 654.2,68.3 654.7,47.5 655.2,66.6 655.7,45.4 656.2,61.9 656.7,43.8 657.2,61.1 657.7,44.3 658.2,59.3 658.7,37.8 659.2,56.5 659.7,36.5 660.2,59.2 660.7,38.8 661.2,58.6 661.7,37.7 662.2,54.9 662.7,36.4 663.2,56.4 663.7,37.7 664.2,55.6 664.7,36.5 665.2,53.2 665.7,32.7 666.2,51.7 666.7,32.1 667.2,55.4 667.7,35.6 668.2,54.8 668.7,33.4 669.2,50.1 669.7,33 670.2,52 670.7,34.6 671.2,51.3 671.7,35.2 672.2,50.4 672.7,30.2 673.2,51.1 673.7,30 674.2,52.8 674.7,34 675.2,52.7 675.7,31.5 676.2,49.2 676.7,31.2 677.2,51 677.7,33.7 678.2,50.8 678.7,29.1 679.2,50.1 679.7,28.9 680.2,48.6 680.7,33.9 681.2,52.6 681.7,33.5 682.2,52.5 682.7,31.1 683.2,48.7 683.7,30.7 684.2,50 684.7,33.1 685.2,49.9 685.7,28.6 686.2,47.8 686.7,28.3 687.2,49.3 687.7,32.6 688.2,52.7 688.7,33.4 689.2,52.4 689.7,30.4 690.2,47.4 690.7,30.5 691.2,49.5 691.7,32.6 692.2,50 692.7,28.2 693.2,49.3 693.7,28.2 694.2,51.3 694.7,31.8 695.2,51.2 695.7,31.3 696.2,48.6 696.7,30.7 697.2,50.3 697.7,31.7 698.2,49.3 698.7,33.4 699.2,48.4 699.7,28.9 700.2,47.7 700.7,28.8 701.2,51.2 701.7,32 702.2,51.1 702.7,30 703.2,49.1 703.7,30.4 704.2,49.5 704.7,31.7 705.2,50.2 705.7,28.4 706.2,47 706.7,28.4 707.2,51.9 707.7,32.1 708.2,51.8 708.7,30.1 709.2,47.4 709.7,30.5 710.2,47.5 710.7,32.9 711.2,50 711.7,28.5 712.2,49.6 712.7,28.5 713.2,48.3 713.7,31.5 714.2,51.9 714.7,32.9 715.2,52 715.7,30.7 716.2,48.6 716.7,30.3 717.2,50 717.7,32.3 718.2,49.7 718.7,28.5 719.2,48.9 719.7,28.5 720.2,47 720.7,35.4 721.2,72 721.7,67.5 722.2,100.7 722.7,92.4 723.2,123.9 723.7,118.3 724.2,143.2 724.7,129.1 725.2,150.7 725.7,133 726.2,156.2 726.7,140.5 727.2,168.3 727.7,151.6 728.2,174.2 728.7,156.6 729.2,176.5 729.7,160.9 730.2,181.8 730.7,167.1 731.2,188.9 731.7,174.3 732.2,193 732.7,174.6 733.2,197.1 733.7,178.9 734.2,203.9 734.7,187.7 735.2,208.1 735.7,188.1 736.2,208 736.7,191 737.2,210.6 737.7,194 738.2,212.8 738.7,196 739.2,213.5 739.7,195.6 740.2,215.4 740.7,197.8 741.2,221.1 741.7,203.2 742.2,222.1 742.7,202.6 743.2,220.2 743.7,202.6 744.2,222.8 744.7,206.2 745.2,223.5 745.7,207.4 746.2,223.4 746.7,203.2 747.2,222.5 747.7,204.1 748.2,228.1" fill="none" stroke="#ff0000" stroke-width="2.3" stroke-linejoin="round"/><polyline points="401.7,216.5 402.2,224.6 402.7,218.4 403.2,224.5 403.7,218.2 404.2,225.8 404.7,217.2 405.2,225.2 405.7,218.2 406.2,225.5 406.7,218.1 407.2,224.5 407.7,217.2 408.2,225.5 408.7,216.8 409.2,225.9 409.7,218.1 410.2,224.8 410.7,218.1 411.2,225.2 411.7,218.3 412.2,225.9 412.7,217.1 413.2,225.8 413.7,217.4 414.2,226 414.7,216.8 415.2,225.9 415.7,216.8 416.2,224.7 416.7,217.7 417.2,224.4 417.7,216.9 418.2,225.2 418.7,216.5 419.2,224.8 419.7,217.5 420.2,225.9 420.7,216.5 421.2,225.7 421.7,216.7 422.2,226 422.7,217.9 423.2,225.4 423.7,218.3 424.2,225.6 424.7,216.5 425.2,225.2 425.7,218.1 426.2,225.4 426.7,218.3 427.2,225.1 427.7,218.2 428.2,225.1 428.7,216.8 429.2,225.7 429.7,216.7 430.2,225.1 430.7,217.5 431.2,224.3 431.7,216.8 432.2,225.4 432.7,217.6 433.2,224.5 433.7,217.5 434.2,224.4 434.7,218.2 435.2,224.4 435.7,217.6 436.2,224.5 436.7,216.8 437.2,225.4 437.7,216.7 438.2,225.3 438.7,218.1 439.2,224.8 439.7,216.7 440.2,225.4 440.7,217.1 441.2,225.5 441.7,218.3 442.2,224.6 442.7,217.5 443.2,225.9 443.7,216.5 444.2,225.4 444.7,217.9 445.2,224.3 445.7,217.3 446.2,225 446.7,216.6 447.2,224.6 447.7,218 448.2,224.3 448.7,218.3 449.2,225.8 449.7,216.7 450.2,224.5 450.7,218.4 451.2,225.4 451.7,217.9 452.2,225.4 452.7,216.6 453.2,225.7 453.7,217.8 454.2,225.4 454.7,217.8 455.2,225.7 455.7,217.9 456.2,225.9 456.7,217.1 457.2,226 457.7,217.7 458.2,226.1 458.7,217.3 459.2,224.7 459.7,217.1 460.2,224.8 460.7,218.2 461.2,224.3 461.7,217.2 462.2,224.7 462.7,218.2 463.2,225.8 463.7,218.1 464.2,225.7 464.7,217.9 465.2,225 465.7,216.6 466.2,225.9 466.7,216.8 467.2,226.2 467.7,217.2 468.2,226.1 468.7,217.2 469.2,223.3 469.7,220.8 470.2,209 470.7,188.6 471.2,171.5 471.7,154 472.2,138.3 472.7,128.3 473.2,127.3 473.7,122.3 474.2,121 474.7,115.7 475.2,114.7 475.7,108.9 476.2,107.2 476.7,101.6 477.2,99.8 477.7,94.1 478.2,93.4 478.7,88.6 479.2,88.1 479.7,83.8 480.2,83.1 480.7,78.4 481.2,78.3 481.7,73.5 482.2,73.8 482.7,69.8 483.2,70.9 483.7,67.2 484.2,68.2 484.7,64.4 485.2,65 485.7,61.5 486.2,62.2 486.7,58.6 487.2,59.9 487.7,56.5 488.2,58.2 488.7,54.7 489.2,56.8 489.7,53.1 490.2,55 490.7,51.4 491.2,53.2 491.7,49.7 492.2,51.9 492.7,48.5 493.2,51.4 493.7,47.6 494.2,51 494.7,47.1 495.2,50.1 495.7,46.4 496.2,49.3 496.7,46.1 497.2,48.9 497.7,45.3 498.2,48.5 498.7,45.2 499.2,48.2 499.7,44 500.2,47.2 500.7,43.4 501.2,46.8 501.7,43.2 502.2,46 502.7,43.3 503.2,46.3 503.7,42.5 504.2,46.2 504.7,42.3 505.2,45.8 505.7,42.2 506.2,45.8 506.7,42.1 507.2,45.6 507.7,41.9 508.2,45.4 508.7,42.3 509.2,45.4 509.7,41.6 510.2,45 510.7,41.2 511.2,44.9 511.7,41.7 512.2,44.7 512.7,41.4 513.2,44.3 513.7,40.8 514.2,44.1 514.7,40.7 515.2,44 515.7,40.8 516.2,44.7 516.7,41.2 517.2,44.6 517.7,41.2 518.2,44.7 518.7,40.4 519.2,44.2 519.7,40.6 520.2,44.2 520.7,41 521.2,44.1 521.7,40.8 522.2,44.5 522.7,41 523.2,44.2 523.7,40.7 524.2,44.2 524.7,40.4 525.2,44.2 525.7,40.8 526.2,44.5 526.7,40.5 527.2,43.9 527.7,40.6 528.2,44.4 528.7,41 529.2,44.2 529.7,40.6 530.2,43.8 530.7,40.8 531.2,43.8 531.7,40.6 532.2,43.9 532.7,40.4 533.2,43.8 533.7,40.4 534.2,43.9 534.7,40.2 535.2,44.2 535.7,40.7 536.2,44.3 536.7,40.4 537.2,43.7 537.7,40.6 538.2,44 538.7,40.4 539.2,44 539.7,40.6 540.2,44.1 540.7,40.5 541.2,44.1 541.7,40.4 542.2,43.7 542.7,40.2 543.2,43.8 543.7,40.2 544.2,43.8 544.7,39.9 545.2,43.9 545.7,40.6 546.2,44.1 546.7,40.6 547.2,43.3 547.7,39.9 548.2,43.4 548.7,40.6 549.2,43.3 549.7,40.2 550.2,43.9 550.7,40.6 551.2,43.3 551.7,40.6 552.2,43.2 552.7,40.5 553.2,42.2 553.7,48.7 554.2,65.4 554.7,79.5 555.2,93.3 555.7,105.6 556.2,119.6 556.7,131 557.2,136.5 557.7,138.1 558.2,143.8 558.7,145.2 559.2,151.5 559.7,153 560.2,159.1 560.7,159.1 561.2,164.9 561.7,165.2 562.2,170.7 562.7,171.3 563.2,176.8 563.7,176.8 564.2,182.7 564.7,181.4 565.2,187 565.7,185.3 566.2,191.4 566.7,189.2 567.2,195.4 567.7,193.3 568.2,200 568.7,196.4 569.2,202 569.7,199.1 570.2,204.8 570.7,201.3 571.2,206.3 571.7,203.5 572.2,209.2 572.7,205.6 573.2,211.1 573.7,206.7 574.2,213.7 574.7,208.5 575.2,215 575.7,208.1 576.2,215.9 576.7,209.9 577.2,216.7 577.7,210.4 578.2,218.1 578.7,211.2 579.2,218.1 579.7,212.1 580.2,218.8 580.7,214.1 581.2,220.4 581.7,214.9 582.2,221.4 582.7,215.5 583.2,223.4 583.7,215.5 584.2,223.5 584.7,214.7 585.2,223 585.7,215.2 586.2,223.3 586.7,216.1 587.2,222.8 587.7,215.8 588.2,224.5 588.7,215.9 589.2,223.5 589.7,216.4 590.2,223.8 590.7,216.9 591.2,224.8 591.7,217.8 592.2,224.4 592.7,217 593.2,224 593.7,216.8 594.2,224.4 594.7,217.6 595.2,224.6 595.7,217.2 596.2,225.1 596.7,217.1 597.2,225.1 597.7,216.9 598.2,225.3 598.7,218.2 599.2,225.2 599.7,217.9 600.2,224.8 600.7,216.5 601.2,225.2 601.7,216.9 602.2,224.5 602.7,217.2 603.2,224.5 603.7,218 604.2,224.5 604.7,218.3 605.2,226 605.7,216.5 606.2,225 606.7,218.4 607.2,225.7 607.7,217.1 608.2,224.3 608.7,216.9 609.2,224.4 609.7,217.9 610.2,225.8 610.7,216.9 611.2,224.7 611.7,217.4 612.2,225.8 612.7,217.2 613.2,225.3 613.7,218 614.2,224.4 614.7,218 615.2,225.3 615.7,217.2 616.2,225.1 616.7,217.1 617.2,225.3 617.7,217.1 618.2,225 618.7,216.7 619.2,225.3 619.7,216.7 620.2,226.2 620.7,216.8 621.2,225.7 621.7,217 622.2,225.3 622.7,217.9 623.2,224.4 623.7,217.1 624.2,224.7 624.7,217.2 625.2,225.3 625.7,217.2 626.2,225.1 626.7,217.9 627.2,224.8 627.7,217 628.2,226 628.7,217.8 629.2,224.9 629.7,217.5 630.2,225.1 630.7,217.2 631.2,225.7 631.7,216.9 632.2,225.8 632.7,217 633.2,226.1 633.7,217.5 634.2,225.1 634.7,217.1 635.2,224.9 635.7,216.8 636.2,225.1 636.7,220.5 637.2,217 637.7,196.5 638.2,178.1 638.7,160.7 639.2,144.8 639.7,129.7 640.2,128.6 640.7,123.1 641.2,122.6 641.7,116.8 642.2,115.7 642.7,110.6 643.2,108.8 643.7,103.3 644.2,101.2 644.7,95.5 645.2,94.5 645.7,89.5 646.2,89.5 646.7,84.8 647.2,84.2 647.7,79.8 648.2,79 648.7,74.5 649.2,74.5 649.7,70.5 650.2,71.6 650.7,67.8 651.2,68.5 651.7,65 652.2,65.8 652.7,61.8 653.2,63 653.7,59 654.2,60.8 654.7,56.7 655.2,58.8 655.7,54.9 656.2,56.9 656.7,53.6 657.2,55.4 657.7,51.7 658.2,54 658.7,50 659.2,51.7 659.7,48 660.2,51.3 660.7,48.1 661.2,51 661.7,47.2 662.2,50.5 662.7,46.7 663.2,49.4 663.7,46.2 664.2,49 664.7,45.7 665.2,48.6 665.7,45.3 666.2,47.7 666.7,44.8 667.2,47 667.7,43.9 668.2,47 668.7,43.3 669.2,46.8 669.7,42.8 670.2,46.4 670.7,42.9 671.2,46.4 671.7,42.7 672.2,46.2 672.7,42.7 673.2,46.1 673.7,42.1 674.2,45.3 674.7,41.9 675.2,45.1 675.7,42 676.2,45.2 676.7,41.9 677.2,45 677.7,41.9 678.2,44.8 678.7,41.8 679.2,45 679.7,41.4 680.2,44.8 680.7,41.2 681.2,44.8 681.7,40.6 682.2,44.5 682.7,40.6 683.2,44.7 683.7,40.5 684.2,44.2 684.7,40.7 685.2,43.9 685.7,40.9 686.2,44.1 686.7,40.7 687.2,43.8 687.7,40.5 688.2,43.8 688.7,40.8 689.2,44.2 689.7,40.4 690.2,44.3 690.7,41 691.2,44.3 691.7,40.9 692.2,44.2 692.7,40.7 693.2,44.5 693.7,40.7 694.2,43.9 694.7,40.8 695.2,44.5 695.7,40.7 696.2,43.8 696.7,40.5 697.2,44.2 697.7,40.2 698.2,43.6 698.7,40.7 699.2,44.2 699.7,40.5 700.2,44.1 700.7,40.3 701.2,43.6 701.7,40.9 702.2,43.6 702.7,40.6 703.2,43.6 703.7,40.6 704.2,43.5 704.7,40.8 705.2,43.9 705.7,40.2 706.2,43.5 706.7,40.7 707.2,44 707.7,40.7 708.2,43.5 708.7,40.3 709.2,43.6 709.7,40.1 710.2,43.8 710.7,40.3 711.2,43.6 711.7,40.7 712.2,44 712.7,40.3 713.2,44 713.7,40.6 714.2,43.6 714.7,40.2 715.2,43.3 715.7,40.5 716.2,44 716.7,39.8 717.2,44 717.7,40.1 718.2,43.8 718.7,40.1 719.2,43.6 719.7,40.4 720.2,42.4 720.7,42.3 721.2,59 721.7,74.5 722.2,88.1 722.7,100.5 723.2,114.3 723.7,126.2 724.2,134.9 724.7,136.4 725.2,142.5 725.7,144.1 726.2,149.9 726.7,151.7 727.2,157.3 727.7,158.5 728.2,164.2 728.7,163.8 729.2,169.9 729.7,169.6 730.2,175.8 730.7,175.6 731.2,181.3 731.7,180.4 732.2,186.1 732.7,184.7 733.2,190.5 733.7,189 734.2,194.8 734.7,193.3 735.2,199.3 735.7,196 736.2,202 736.7,198.7 737.2,203.9 737.7,200.1 738.2,206 738.7,202.6 739.2,209.3 739.7,204.7 740.2,211.2 740.7,206.4 741.2,214.3 741.7,208 742.2,214.4 742.7,208.3 743.2,214.7 743.7,209.7 744.2,216.1 744.7,210.5 745.2,217.7 745.7,210.9 746.2,218.3 746.7,212.1 747.2,218.6 747.7,213.1 748.2,220.8" fill="none" stroke="#00ff00" stroke-width="2.5" stroke-linejoin="round"/><polyline points="401.7,218.6 402.2,224.5 402.7,218.8 403.2,224.4 403.7,219.4 404.2,223.9 404.7,218.3 405.2,224.6 405.7,219.7 406.2,224.7 406.7,218.2 407.2,224.8 407.7,219.4 408.2,225.4 408.7,219.4 409.2,224.5 409.7,218.9 410.2,223.9 410.7,219.3 411.2,223.9 411.7,219.5 412.2,223.7 412.7,218.6 413.2,224.8 413.7,219.3 414.2,225.4 414.7,219 415.2,224.4 415.7,218 416.2,224.8 416.7,218.9 417.2,225 417.7,218.4 418.2,224.2 418.7,219.6 419.2,225 419.7,218.4 420.2,224.7 420.7,219.6 421.2,225 421.7,219.4 422.2,225.1 422.7,218.6 423.2,224.8 423.7,219.6 424.2,224.3 424.7,218.4 425.2,223.8 425.7,219.7 426.2,224.4 426.7,218.2 427.2,224.8 427.7,219.3 428.2,223.7 428.7,218.2 429.2,225.2 429.7,218.4 430.2,224 430.7,218.4 431.2,223.6 431.7,219.5 432.2,224.2 432.7,218 433.2,223.6 433.7,219.5 434.2,225 434.7,218.3 435.2,224.1 435.7,219.6 436.2,225.2 436.7,217.9 437.2,225.3 437.7,218.7 438.2,223.7 438.7,218.4 439.2,224.8 439.7,218.2 440.2,225 440.7,218.8 441.2,225.4 441.7,218.9 442.2,224.4 442.7,218.6 443.2,225.1 443.7,218.7 444.2,225.4 444.7,219.3 445.2,225.3 445.7,218.1 446.2,224.2 446.7,219.7 447.2,224.7 447.7,218.6 448.2,225.4 448.7,218.7 449.2,224.9 449.7,218.3 450.2,223.9 450.7,218.5 451.2,224.4 451.7,219.4 452.2,224.1 452.7,219.1 453.2,225 453.7,218.7 454.2,224.2 454.7,219.7 455.2,225.1 455.7,218.3 456.2,225.2 456.7,218.3 457.2,223.7 457.7,219.2 458.2,224.5 458.7,219.2 459.2,225.1 459.7,219.4 460.2,223.6 460.7,218.9 461.2,223.7 461.7,219.7 462.2,224.7 462.7,218.6 463.2,224.6 463.7,219.6 464.2,224.6 464.7,218.8 465.2,224.2 465.7,219.4 466.2,223.9 466.7,218.9 467.2,224.3 467.7,218.7 468.2,224.9 468.7,219.3 469.2,223.1 469.7,216.5 470.2,197 470.7,177 471.2,160.4 471.7,142.6 472.2,129.8 472.7,125 473.2,123.8 473.7,118.1 474.2,117.2 474.7,112 475.2,109.9 475.7,104.6 476.2,102.4 476.7,97.4 477.2,94.9 477.7,89.9 478.2,89.1 478.7,84.4 479.2,84.2 479.7,79.5 480.2,78.7 480.7,74.5 481.2,73.3 481.7,69.4 482.2,70.1 482.7,66.2 483.2,66.6 483.7,62.8 484.2,63.9 484.7,60 485.2,61.1 485.7,57 486.2,57.9 486.7,54.6 487.2,56.5 487.7,53.2 488.2,55 488.7,51.2 489.2,53 489.7,49.7 490.2,50.7 490.7,48 491.2,49.6 491.7,45.4 492.2,48.5 492.7,44.6 493.2,47.2 493.7,43.8 494.2,47 494.7,43.2 495.2,46.6 495.7,42.9 496.2,45.5 496.7,42.8 497.2,44.8 497.7,41.9 498.2,44.5 498.7,40.7 499.2,43.6 499.7,40.4 500.2,43.1 500.7,40.5 501.2,43.4 501.7,39.8 502.2,42.9 502.7,39.2 503.2,42.5 503.7,39.3 504.2,42 504.7,38.7 505.2,42.1 505.7,38.7 506.2,42.5 506.7,39.1 507.2,41.9 507.7,38.6 508.2,42.3 508.7,38.1 509.2,41.3 509.7,38.2 510.2,40.9 510.7,37.9 511.2,40.8 511.7,38.2 512.2,41.1 512.7,37.6 513.2,40.6 513.7,37.3 514.2,40.6 514.7,37 515.2,40.2 515.7,36.8 516.2,40.7 516.7,37.6 517.2,40.5 517.7,37 518.2,40.2 518.7,36.7 519.2,40.3 519.7,37.2 520.2,40.1 520.7,37.2 521.2,41.2 521.7,37.5 522.2,40.2 522.7,37 523.2,40.7 523.7,37.5 524.2,40.2 524.7,36.9 525.2,40.2 525.7,37.6 526.2,40.7 526.7,36.6 527.2,40.8 527.7,36.6 528.2,40.1 528.7,37.2 529.2,40.6 529.7,36.8 530.2,40.6 530.7,36.8 531.2,40.1 531.7,37.2 532.2,39.9 532.7,37.4 533.2,40.5 533.7,37.3 534.2,40.8 534.7,36.3 535.2,39.9 535.7,36.3 536.2,40.4 536.7,37.4 537.2,40.1 537.7,36.9 538.2,40 538.7,37.2 539.2,39.9 539.7,37.3 540.2,40.2 540.7,36.7 541.2,39.9 541.7,36.2 542.2,40.6 542.7,36.7 543.2,40.5 543.7,36.8 544.2,40.4 544.7,36.3 545.2,39.9 545.7,36.3 546.2,39.9 546.7,37 547.2,40 547.7,37 548.2,40.3 548.7,36.8 549.2,40 549.7,36.1 550.2,40.1 550.7,36 551.2,40.3 551.7,36.3 552.2,40.3 552.7,36.5 553.2,39.4 553.7,55.2 554.2,72.1 554.7,84.8 555.2,98.8 555.7,111.4 556.2,125.5 556.7,131.9 557.2,137.1 557.7,139.2 558.2,144.8 558.7,146.6 559.2,152 559.7,154.4 560.2,159.6 560.7,160.5 561.2,165.8 561.7,166.5 562.2,171.4 562.7,172.4 563.2,178.2 563.7,178.4 564.2,183 564.7,182.3 565.2,187.4 565.7,186.8 566.2,191.7 566.7,190.7 567.2,196.4 567.7,195.5 568.2,200.4 568.7,197.4 569.2,202.7 569.7,199.2 570.2,204.1 570.7,202.5 571.2,206.6 571.7,204 572.2,209.7 572.7,207 573.2,211.5 573.7,208 574.2,213.7 574.7,209.1 575.2,214.9 575.7,209.5 576.2,214.6 576.7,210.4 577.2,215.9 577.7,211.9 578.2,217.6 578.7,213.3 579.2,217.8 579.7,213.3 580.2,219.5 580.7,214.2 581.2,219.4 581.7,215.6 582.2,221.4 582.7,215.9 583.2,222.4 583.7,217.1 584.2,221.5 584.7,217.5 585.2,222 585.7,217 586.2,222.3 586.7,217.9 587.2,222.1 587.7,217.2 588.2,223.6 588.7,218.4 589.2,223.3 589.7,217 590.2,223.2 590.7,218 591.2,224.2 591.7,219.1 592.2,224.5 592.7,218 593.2,224.4 593.7,218.9 594.2,224.2 594.7,218.1 595.2,223.6 595.7,219.6 596.2,224.8 596.7,218 597.2,223.9 597.7,219.4 598.2,224.4 598.7,218.3 599.2,224.6 599.7,218.5 600.2,223.7 600.7,219.4 601.2,224.7 601.7,218.4 602.2,223.7 602.7,219.6 603.2,224.2 603.7,219 604.2,224.2 604.7,219.5 605.2,223.7 605.7,218.6 606.2,225.4 606.7,218.6 607.2,225.3 607.7,219.5 608.2,224.7 608.7,219.1 609.2,225.2 609.7,218.6 610.2,224.7 610.7,218 611.2,225.4 611.7,219.5 612.2,224.4 612.7,219.6 613.2,224.6 613.7,219.4 614.2,224.9 614.7,219.1 615.2,223.6 615.7,218.1 616.2,223.8 616.7,219.3 617.2,224.6 617.7,219.7 618.2,225 618.7,218.4 619.2,223.8 619.7,218.6 620.2,223.8 620.7,218.8 621.2,223.8 621.7,219.2 622.2,224.4 622.7,218.7 623.2,224.8 623.7,218 624.2,224.2 624.7,219.1 625.2,224 625.7,218.4 626.2,224.3 626.7,219.4 627.2,223.9 627.7,219 628.2,225.2 628.7,218.9 629.2,225.1 629.7,218.9 630.2,224.7 630.7,219.3 631.2,224.4 631.7,218.4 632.2,223.7 632.7,218.9 633.2,224.1 633.7,219.2 634.2,224.2 634.7,219.4 635.2,224.7 635.7,219.7 636.2,224 636.7,221.2 637.2,205 637.7,184.2 638.2,167.3 638.7,149.5 639.2,133 639.7,126.6 640.2,124.8 640.7,119.7 641.2,118.5 641.7,113 642.2,111.8 642.7,106.4 643.2,103.8 643.7,98.8 644.2,96.5 644.7,91.5 645.2,90.1 645.7,86 646.2,85.3 646.7,80.7 647.2,79.7 647.7,75.6 648.2,74.8 648.7,70.4 649.2,70.3 649.7,66.8 650.2,67.3 650.7,63.3 651.2,64.8 651.7,60.6 652.2,61.6 652.7,57.6 653.2,59.1 653.7,54.9 654.2,56.4 654.7,53.5 655.2,55 655.7,51.4 656.2,53.5 656.7,49.2 657.2,51.7 657.7,48.2 658.2,50.1 658.7,46.1 659.2,47.7 659.7,45.1 660.2,48.2 660.7,43.9 661.2,47.4 661.7,43.5 662.2,46 662.7,42.6 663.2,45.8 663.7,42.2 664.2,45.4 664.7,41.9 665.2,44.8 665.7,40.9 666.2,44.6 666.7,40.9 667.2,44 667.7,40.5 668.2,42.9 668.7,39.7 669.2,42.3 669.7,39.4 670.2,42.1 670.7,38.6 671.2,42.9 671.7,39 672.2,41.8 672.7,39.1 673.2,42.5 673.7,38.9 674.2,41.5 674.7,38.6 675.2,41.9 675.7,38.7 676.2,41.5 676.7,38.1 677.2,41.8 677.7,38.1 678.2,41.9 678.7,38.1 679.2,41.4 679.7,38.1 680.2,41.4 680.7,37.4 681.2,40.4 681.7,36.9 682.2,41.2 682.7,37.7 683.2,41.2 683.7,36.7 684.2,40.5 684.7,36.8 685.2,40.9 685.7,37.1 686.2,40.5 686.7,37.4 687.2,41 687.7,36.8 688.2,41.1 688.7,37.6 689.2,40.7 689.7,36.8 690.2,40.2 690.7,37.6 691.2,41 691.7,36.7 692.2,40.8 692.7,37.2 693.2,40.4 693.7,36.6 694.2,40 694.7,36.7 695.2,40.7 695.7,37 696.2,41 696.7,36.8 697.2,40.9 697.7,37.3 698.2,40.3 698.7,37.1 699.2,40.4 699.7,36.6 700.2,40.9 700.7,36.4 701.2,40.8 701.7,36.3 702.2,40.6 702.7,36.5 703.2,39.8 703.7,36.9 704.2,40.3 704.7,37.2 705.2,40.7 705.7,36.9 706.2,39.9 706.7,37.2 707.2,40.3 707.7,36.9 708.2,40.7 708.7,36.5 709.2,40.1 709.7,37.1 710.2,39.6 710.7,36.4 711.2,40.3 711.7,36.6 712.2,40.1 712.7,36.7 713.2,40.6 713.7,37.1 714.2,39.8 714.7,36.2 715.2,39.8 715.7,36.7 716.2,40 716.7,36.7 717.2,40.3 717.7,37 718.2,40.1 718.7,36.3 719.2,39.8 719.7,36.2 720.2,38.7 720.7,48.5 721.2,65.5 721.7,79.6 722.2,93.5 722.7,106.2 723.2,120.2 723.7,130.5 724.2,135.6 724.7,137.4 725.2,143 725.7,145.4 726.2,150.9 726.7,152.9 727.2,158 727.7,159.6 728.2,164.5 728.7,165 729.2,170.7 729.7,171.3 730.2,176.9 730.7,177 731.2,181.8 731.7,181.7 732.2,186.8 732.7,185.5 733.2,190.9 733.7,190.2 734.2,195.1 734.7,195 735.2,199.2 735.7,197.4 736.2,202 736.7,199.2 737.2,204.3 737.7,201.2 738.2,205.8 738.7,204.3 739.2,208.2 739.7,206.4 740.2,211.5 740.7,208.3 741.2,213.6 741.7,209.5 742.2,213.9 742.7,209.5 743.2,214.8 743.7,210.6 744.2,216.2 744.7,211.6 745.2,216.3 745.7,213 746.2,218.7 746.7,214 747.2,218.5 747.7,213.9 748.2,220" fill="none" stroke="#0000ff" stroke-width="2.5" stroke-linejoin="round"/></g>
<g clip-path="url(#cBL)"><polyline points="26.6,517.8 27.1,530.2 27.6,511.8 28.1,530.1 28.6,511.7 29.1,529.9 29.6,518.6 30.1,530.6 30.6,518.9 31.1,536.5 31.6,518.1 32.1,536.2 32.6,517.7 33.1,530.5 33.6,513.9 34.1,529.7 34.6,513.9 35.1,529.4 35.6,518.1 36.1,529.4 36.6,518.8 37.1,536.7 37.6,518.4 38.1,536.6 38.6,518.6 39.1,529.5 39.6,512.2 40.1,531 40.6,512.4 41.1,531 41.6,518.8 42.1,529.7 42.6,517.5 43.1,535 43.6,518.8 44.1,535.1 44.6,517.4 45.1,531 45.6,517.6 46.1,529.9 46.6,512.6 47.1,531 47.6,512.6 48.1,531.1 48.6,517.7 49.1,530.7 49.6,517.8 50.1,534.8 50.6,518 51.1,534.9 51.6,518 52.1,529.4 52.6,518.2 53.1,530.9 53.6,513.7 54.1,530.2 54.6,513.7 55.1,530.7 55.6,518.6 56.1,530.6 56.6,517.5 57.1,536 57.6,517.4 58.1,535.9 58.6,517.6 59.1,529.4 59.6,514.2 60.1,529.9 60.6,514.2 61.1,530.5 61.6,517.6 62.1,530.5 62.6,517.5 63.1,534.8 63.6,518.5 64.1,534.9 64.6,517.7 65.1,530.7 65.6,517.3 66.1,530.9 66.6,512.2 67.1,530.7 67.6,512.3 68.1,530.3 68.6,517.8 69.1,530.9 69.6,517.6 70.1,536.2 70.6,519 71.1,536.1 71.6,517.6 72.1,529.7 72.6,517.6 73.1,530.7 73.6,513.9 74.1,529.6 74.6,513.8 75.1,530.5 75.6,518.7 76.1,530.9 76.6,518.7 77.1,534.8 77.6,517.4 78.1,534.6 78.6,517.8 79.1,530.3 79.6,513.4 80.1,530.1 80.6,513.4 81.1,529.8 81.6,517.6 82.1,529.9 82.6,517.4 83.1,534.6 83.6,517.5 84.1,534.6 84.6,517.8 85.1,531 85.6,518.5 86.1,530.4 86.6,514.3 87.1,529.5 87.6,514.1 88.1,530.2 88.6,517.6 89.1,529.4 89.6,518.7 90.1,535.6 90.6,517.6 91.1,535.6 91.6,519 92.1,530 92.6,513.5 93.1,530.8 93.6,513.4 94.1,529.8 94.6,517.7 95.1,530 95.6,517.7 96.1,534.9 96.6,518.9 97.1,534.9 97.6,518.3 98.1,530.2 98.6,518.1 99.1,530.6 99.6,511.8 100.1,530.3 100.6,511.9 101.1,530.6 101.6,518.7 102.1,529.6 102.6,518.6 103.1,536 103.6,518.4 104.1,536 104.6,517.4 105.1,530.6 105.6,518.4 106.1,530.7 106.6,511.7 107.1,531 107.6,511.7 108.1,530.5 108.6,517.8 109.1,534.8 109.6,518.7 110.1,534.8 110.6,518.3 111.1,530.6 111.6,517.7 112.1,529.7 112.6,512.6 113.1,529.8 113.6,512.6 114.1,530.2 114.6,518.2 115.1,531 115.6,517.7 116.1,536.1 116.6,518.2 117.1,536.2 117.6,518.4 118.1,529.5 118.6,518.3 119.1,530.2 119.6,512.9 120.1,531.1 120.6,512.9 121.1,529.7 121.6,518.7 122.1,530.6 122.6,518.1 123.1,536 123.6,518.2 124.1,536 124.6,517.9 125.1,530.4 125.6,511.6 126.1,530.2 126.6,511.7 127.1,530.4 127.6,518.2 128.1,530.7 128.6,517.4 129.1,536 129.6,518 130.1,536.1 130.6,518.8 131.1,530.6 131.6,518.7 132.1,530 132.6,512.8 133.1,529.8 133.6,512.9 134.1,530.3 134.6,517.3 135.1,529.4 135.6,518.2 136.1,536.6 136.6,518 137.1,536.5 137.6,518 138.1,531 138.6,518.3 139.1,530 139.6,511.9 140.1,530.3 140.6,511.7 141.1,531 141.6,518.6 142.1,529.5 142.6,518.1 143.1,535.3 143.6,517.5 144.1,535.3 144.6,518 145.1,530.3 145.6,518.5 146.1,529.7 146.6,513.4 147.1,530.8 147.6,513.4 148.1,531.1 148.6,517.6 149.1,530.3 149.6,518 150.1,535.5 150.6,517.5 151.1,535.5 151.6,518.7 152.1,530.9 152.6,512.8 153.1,530 153.6,512.8 154.1,530.1 154.6,517.8 155.1,530.2 155.6,517.9 156.1,536.2 156.6,517.5 157.1,536.4 157.6,518.4 158.1,530.6 158.6,517.9 159.1,529.5 159.6,513.8 160.1,529.9 160.6,513.7 161.1,529.7 161.6,518.5 162.1,529.8 162.6,518.5 163.1,536 163.6,517.5 164.1,536 164.6,517.9 165.1,530.7 165.6,513.2 166.1,530.1 166.6,513.2 167.1,529.7 167.6,517.7 168.1,531 168.6,517.5 169.1,534.3 169.6,517.4 170.1,534.4 170.6,518.8 171.1,530.4 171.6,518.4 172.1,529.7 172.6,511.7 173.1,530.3 173.6,511.7 174.1,530.3 174.6,518 175.1,530.7 175.6,517.8 176.1,536 176.6,517.6 177.1,536 177.6,517.9 178.1,529.6 178.6,514.2 179.1,530.2 179.6,514 180.1,529.8 180.6,517.4 181.1,529.9 181.6,518.2 182.1,535 182.6,517.3 183.1,534.9 183.6,518.6 184.1,530.5 184.6,518.4 185.1,530 185.6,514.2 186.1,531 186.6,514 187.1,530.4 187.6,518.6 188.1,531 188.6,518.8 189.1,535.1 189.6,518.9 190.1,535.1 190.6,518.5 191.1,531 191.6,513.2 192.1,530.8 192.6,513.2 193.1,529.8 193.6,517.3 194.1,530 194.6,519 195.1,534.2 195.6,518.4 196.1,534.3 196.6,518.4 197.1,529.9 197.6,518.2 198.1,530.2 198.6,511.6 199.1,530.3 199.6,511.8 200.1,530.4 200.6,517.7 201.1,530.2 201.6,518.7 202.1,535.6 202.6,518.8 203.1,535.6 203.6,518.3 204.1,530.1 204.6,518.7 205.1,530.9 205.6,513.1 206.1,530.3 206.6,513.1 207.1,529.6 207.6,518.3 208.1,535.1 208.6,518.1 209.1,535.1 209.6,517.5 210.1,531 210.6,518.8 211.1,530.2 211.6,513.7 212.1,530 212.6,513.7 213.1,530.2 213.6,517.5 214.1,529.5 214.6,518.4 215.1,536 215.6,517.6 216.1,536.1 216.6,517.5 217.1,530.7 217.6,518.3 218.1,530.6 218.6,512.6 219.1,529.6 219.6,512.7 220.1,530.8 220.6,517.5 221.1,529.8 221.6,517.7 222.1,536.8 222.6,518.2 223.1,536.7 223.6,518.1 224.1,530 224.6,518.1 225.1,530.1 225.6,512.9 226.1,530.5 226.6,512.8 227.1,529.7 227.6,518.6 228.1,529.9 228.6,518.3 229.1,535.5 229.6,517.7 230.1,535.5 230.6,518.6 231.1,529.9 231.6,513.3 232.1,529.4 232.6,513.3 233.1,529.4 233.6,518 234.1,530.4 234.6,518.4 235.1,534.5 235.6,518.5 236.1,534.2 236.6,518.8 237.1,529.8 237.6,517.7 238.1,530.7 238.6,512.1 239.1,530.9 239.6,512 240.1,529.8 240.6,518 241.1,530.3 241.6,517.7 242.1,535.9 242.6,517.5 243.1,535.9 243.6,517.8 244.1,530.4 244.6,512 245.1,530.4 245.6,512.2 246.1,529.4 246.6,518.5 247.1,529.9 247.6,518.6 248.1,534.4 248.6,517.9 249.1,534.1 249.6,517.8 250.1,530.9 250.6,518.9 251.1,529.4 251.6,513.8 252.1,530.9 252.6,513.8 253.1,530.3 253.6,518.3 254.1,530.4 254.6,517.4 255.1,534.9 255.6,517.7 256.1,534.9 256.6,517.5 257.1,530.7 257.6,512.7 258.1,529.9 258.6,512.6 259.1,531.1 259.6,517.9 260.1,529.5 260.6,518.1 261.1,536 261.6,518 262.1,536 262.6,517.5 263.1,530.2 263.6,517.6 264.1,529.8 264.6,512.9 265.1,530.3 265.6,512.9 266.1,530.1 266.6,517.4 267.1,530.3 267.6,518.1 268.1,534.3 268.6,518.2 269.1,534.2 269.6,518.3 270.1,529.8 270.6,514.2 271.1,530 271.6,514.2 272.1,530.5 272.6,518.9 273.1,530.9 273.6,518.5 274.1,534.4 274.6,518.1 275.1,534.4 275.6,517.8 276.1,529.9 276.6,517.4 277.1,529.5 277.6,513.6 278.1,530.9 278.6,513.4 279.1,529.8 279.6,517.9 280.1,530 280.6,518.1 281.1,534.5 281.6,518.1 282.1,534.6 282.6,517.6 283.1,529.8 283.6,518 284.1,530.4 284.6,513.3 285.1,530.2 285.6,513.3 286.1,531 286.6,518.3 287.1,530.1 287.6,517.3 288.1,535.4 288.6,518.1 289.1,535.4 289.6,518 290.1,530.3 290.6,517.9 291.1,529.8 291.6,513.8 292.1,529.4 292.6,513.7 293.1,530.8 293.6,517.8 294.1,531.1 294.6,517.7 295.1,535.5 295.6,518.5 296.1,535.5 296.6,518.8 297.1,530.9 297.6,513 298.1,529.6 298.6,513 299.1,530.6 299.6,517.9 300.1,529.4 300.6,518.1 301.1,536.7 301.6,517.5 302.1,536.6 302.6,519 303.1,530.1 303.6,519 304.1,530.9 304.6,513.4 305.1,530.6 305.6,513.5 306.1,531 306.6,518.6 307.1,530.5 307.6,517.7 308.1,535.8 308.6,518.8 309.1,535.8 309.6,517.8 310.1,529.6 310.6,513 311.1,531 311.6,513 312.1,529.6 312.6,517.9 313.1,530 313.6,517.7 314.1,535.8 314.6,517.6 315.1,535.8 315.6,518.7 316.1,530.3 316.6,518.3 317.1,529.6 317.6,512.1 318.1,530 318.6,512 319.1,529.5 319.6,517.4 320.1,531.1 320.6,517.8 321.1,536.8 321.6,517.9 322.1,536.7 322.6,518.2 323.1,529.8 323.6,518.8 324.1,530.8 324.6,512.2 325.1,530.7 325.6,512.2 326.1,530.1 326.6,518.1 327.1,529.9 327.6,517.9 328.1,535.9 328.6,517.7 329.1,536 329.6,518.4 330.1,529.5 330.6,513.9 331.1,529.7 331.6,513.9 332.1,530.1 332.6,518.4 333.1,530.9 333.6,518.9 334.1,534.8 334.6,518.9 335.1,534.7 335.6,518.4 336.1,529.8 336.6,518 337.1,530 337.6,513.1 338.1,529.6 338.6,513.1 339.1,530.6 339.6,517.3 340.1,529.8 340.6,517.7 341.1,534.1 341.6,518.1 342.1,534.1 342.6,518.3 343.1,531 343.6,518.6 344.1,530.1 344.6,513.8 345.1,530.2 345.6,513.8 346.1,530.3 346.6,518.4 347.1,534.9 347.6,517.9 348.1,534.8 348.6,517.3 349.1,529.5 349.6,517.6 350.1,530.6 350.6,513.7 351.1,530.2 351.6,513.7 352.1,529.5 352.6,517.9 353.1,530.9 353.6,518.3 354.1,536.2 354.6,517.8 355.1,536.3 355.6,517.7 356.1,530.2 356.6,512.1 357.1,530.3 357.6,512.2 358.1,529.7 358.6,518.2 359.1,530.8 359.6,519 360.1,535.2 360.6,518.4 361.1,535.1 361.6,517.8 362.1,530.4 362.6,518.5 363.1,529.6 363.6,512.5 364.1,530.9 364.6,512.5 365.1,530.6 365.6,517.8 366.1,530.6 366.6,517.4 367.1,536.1 367.6,518.8 368.1,536 368.6,519 369.1,530.3 369.6,518.3 370.1,531 370.6,512.5 371.1,529.8 371.6,512.4 372.1,530.2 372.6,518.1 373.1,534.6 373.6,518" fill="none" stroke="#ff0000" stroke-width="2.3" stroke-linejoin="round"/><polyline points="26.6,519.2 27.1,527.4 27.6,520.2 28.1,527.3 28.6,519.7 29.1,527.5 29.6,520.4 30.1,529.8 30.6,520.1 31.1,528.4 31.6,521.3 32.1,527.8 32.6,521.1 33.1,528.8 33.6,521 34.1,527.5 34.6,521 35.1,529.1 35.6,519.6 36.1,527.8 36.6,520.5 37.1,527.8 37.6,519.8 38.1,528.6 38.6,521 39.1,527.4 39.6,519.6 40.1,527.8 40.6,519.5 41.1,527.5 41.6,521.1 42.1,527.2 42.6,519 43.1,528.5 43.6,521.3 44.1,528 44.6,519.6 45.1,527.6 45.6,519 46.1,527 46.6,519.9 47.1,528.6 47.6,520.9 48.1,529.8 48.6,519.9 49.1,527.4 49.6,519.3 50.1,527.1 50.6,519.5 51.1,529.4 51.6,519.6 52.1,527.1 52.6,521.2 53.1,529.3 53.6,519 54.1,527.8 54.6,518.8 55.1,529.3 55.6,521.1 56.1,529.5 56.6,521.3 57.1,527.9 57.6,520.8 58.1,527.6 58.6,520 59.1,527.1 59.6,518.7 60.1,527.6 60.6,519.5 61.1,528 61.6,518.8 62.1,528.6 62.6,520 63.1,529.2 63.6,519.8 64.1,528.3 64.6,520.9 65.1,529.3 65.6,519.6 66.1,528.3 66.6,518.6 67.1,528.3 67.6,519.3 68.1,527.5 68.6,520.4 69.1,528.8 69.6,520.7 70.1,529.8 70.6,518.6 71.1,528.8 71.6,519.4 72.1,527.8 72.6,519.2 73.1,529.4 73.6,520.1 74.1,528.6 74.6,519.5 75.1,527.7 75.6,521.3 76.1,527.5 76.6,519.9 77.1,528.8 77.6,519 78.1,527.8 78.6,520.9 79.1,528.2 79.6,520.9 80.1,527.7 80.6,520 81.1,528.9 81.6,521.1 82.1,527.5 82.6,520.1 83.1,528.5 83.6,520.9 84.1,528.9 84.6,519.8 85.1,529.7 85.6,518.7 86.1,528.8 86.6,521.1 87.1,528.5 87.6,520.6 88.1,527.8 88.6,521.2 89.1,529 89.6,519.5 90.1,527.8 90.6,520.7 91.1,529.8 91.6,519.8 92.1,529 92.6,520.7 93.1,529.7 93.6,519.4 94.1,528.4 94.6,520.9 95.1,527.2 95.6,519.5 96.1,524.5 96.6,503.3 97.1,506.9 97.6,500.6 98.1,514.8 98.6,512.4 99.1,523.6 99.6,517.7 100.1,527.4 100.6,521.3 101.1,528.6 101.6,521.2 102.1,527.9 102.6,520.5 103.1,529.8 103.6,520.2 104.1,527.9 104.6,520.5 105.1,527.9 105.6,520.9 106.1,527.9 106.6,519.4 107.1,528 107.6,520.7 108.1,527.1 108.6,519.2 109.1,527.9 109.6,520.6 110.1,529.4 110.6,518.7 111.1,528.6 111.6,521.2 112.1,529.4 112.6,519.2 113.1,527.1 113.6,520.6 114.1,529.4 114.6,520 115.1,527.5 115.6,518.6 116.1,527.6 116.6,520.9 117.1,529 117.6,518.6 118.1,529 118.6,521.3 119.1,527.1 119.6,520.8 120.1,528.9 120.6,518.7 121.1,527.3 121.6,519.5 122.1,528.9 122.6,521.3 123.1,529.6 123.6,520.5 124.1,528.1 124.6,519.2 125.1,528.5 125.6,519.6 126.1,527.2 126.6,519.6 127.1,527.4 127.6,519.1 128.1,529.2 128.6,519.6 129.1,528.8 129.6,518.6 130.1,529.3 130.6,519.4 131.1,528 131.6,521.4 132.1,529.8 132.6,521.2 133.1,527.1 133.6,519.7 134.1,529.8 134.6,520.1 135.1,527.6 135.6,521.3 136.1,527.5 136.6,520.4 137.1,528 137.6,520.6 138.1,529.5 138.6,518.6 139.1,529.8 139.6,520.8 140.1,529 140.6,520.9 141.1,528.3 141.6,520 142.1,527.9 142.6,519.2 143.1,527.6 143.6,519.1 144.1,529.2 144.6,519.6 145.1,527.2 145.6,521 146.1,529.3 146.6,518.7 147.1,527.7 147.6,519.5 148.1,529.1 148.6,518.9 149.1,527.4 149.6,520.8 150.1,527.2 150.6,519.4 151.1,528 151.6,519.4 152.1,527.5 152.6,519.6 153.1,527.8 153.6,520.2 154.1,528.7 154.6,518.7 155.1,527.6 155.6,519.2 156.1,527.2 156.6,520.9 157.1,529 157.6,521.2 158.1,529.4 158.6,518.9 159.1,527.6 159.6,519.4 160.1,528.8 160.6,518.6 161.1,528.4 161.6,520.4 162.1,529.5 162.6,520.6 163.1,529.6 163.6,520.4 164.1,528.2 164.6,519 165.1,529.1 165.6,520.9 166.1,528.9 166.6,518.6 167.1,528.1 167.6,519.8 168.1,528.9 168.6,519.4 169.1,528.1 169.6,520.3 170.1,527.5 170.6,519.6 171.1,527.9 171.6,519.2 172.1,527.1 172.6,519.3 173.1,527.5 173.6,518.9 174.1,529.3 174.6,520.4 175.1,527.3 175.6,520.8 176.1,527.6 176.6,518.6 177.1,529.3 177.6,521.3 178.1,527.1 178.6,520.6 179.1,529.9 179.6,522.3 180.1,542.7 180.6,539.5 181.1,547.8 181.6,533.3 182.1,535.9 182.6,524.3 183.1,530.2 183.6,522.1 184.1,527.5 184.6,520.6 185.1,528.5 185.6,520.7 186.1,527.8 186.6,521.1 187.1,527.2 187.6,518.8 188.1,528.2 188.6,520.1 189.1,527.4 189.6,518.6 190.1,527 190.6,519.2 191.1,527.1 191.6,520.6 192.1,528.4 192.6,520.1 193.1,529 193.6,519.8 194.1,529 194.6,521.2 195.1,527.8 195.6,520.6 196.1,528.4 196.6,520.2 197.1,527.3 197.6,521 198.1,527.2 198.6,521.2 199.1,528.8 199.6,518.7 200.1,528.7 200.6,520.8 201.1,528.7 201.6,520 202.1,527.8 202.6,519.1 203.1,527.8 203.6,520.5 204.1,527.1 204.6,520.7 205.1,529.6 205.6,520 206.1,529.1 206.6,520 207.1,527.8 207.6,520.4 208.1,528.4 208.6,520.5 209.1,528.5 209.6,521.3 210.1,528.1 210.6,521.1 211.1,528.4 211.6,519.9 212.1,529.6 212.6,518.9 213.1,529.5 213.6,520.1 214.1,527.8 214.6,519 215.1,527.3 215.6,520.3 216.1,527.2 216.6,519.1 217.1,529.1 217.6,518.8 218.1,527.5 218.6,519 219.1,529 219.6,519.9 220.1,528.3 220.6,519.1 221.1,528.3 221.6,518.7 222.1,529.6 222.6,520.4 223.1,528.5 223.6,520.2 224.1,529.5 224.6,519 225.1,528.1 225.6,520.4 226.1,527.9 226.6,519.5 227.1,528.9 227.6,519.6 228.1,528.5 228.6,519.5 229.1,527 229.6,520 230.1,529 230.6,519.3 231.1,529.3 231.6,520.8 232.1,529.6 232.6,518.7 233.1,528.8 233.6,519.1 234.1,527.6 234.6,520.9 235.1,527.6 235.6,519.9 236.1,529.5 236.6,520.4 237.1,529.6 237.6,519.1 238.1,527.1 238.6,521.3 239.1,529.8 239.6,520 240.1,529.2 240.6,519 241.1,527.9 241.6,521.3 242.1,529.5 242.6,518.8 243.1,528.1 243.6,519.5 244.1,527 244.6,518.7 245.1,528.7 245.6,518.6 246.1,528.9 246.6,520.4 247.1,527.5 247.6,519.9 248.1,529.4 248.6,519.9 249.1,528.5 249.6,520.8 250.1,527.4 250.6,520.7 251.1,527.9 251.6,520.1 252.1,529.7 252.6,520.6 253.1,527.7 253.6,519.3 254.1,529.7 254.6,520.7 255.1,527.9 255.6,520.2 256.1,527.2 256.6,521.1 257.1,528.6 257.6,520.7 258.1,527.7 258.6,519.1 259.1,528.4 259.6,519.8 260.1,528.9 260.6,519.3 261.1,529.6 261.6,518.7 262.1,526.7 262.6,517.8 263.1,524.8 263.6,510.3 264.1,507.3 264.6,500.6 265.1,511.4 265.6,511.7 266.1,524.8 266.6,516.1 267.1,526.8 267.6,519.6 268.1,529.1 268.6,519.7 269.1,527.2 269.6,520.1 270.1,527.6 270.6,520.1 271.1,529.8 271.6,520.8 272.1,527.9 272.6,519.8 273.1,528.9 273.6,520.5 274.1,528.1 274.6,520 275.1,529.6 275.6,521.2 276.1,529.5 276.6,519.8 277.1,529.6 277.6,520.3 278.1,528.8 278.6,521.3 279.1,527.6 279.6,519.6 280.1,527.9 280.6,519.9 281.1,529.8 281.6,519.8 282.1,528.9 282.6,519.8 283.1,527.7 283.6,518.6 284.1,528.1 284.6,521.3 285.1,528.2 285.6,520.2 286.1,527.6 286.6,520.2 287.1,527.2 287.6,518.7 288.1,528.5 288.6,520.6 289.1,528.6 289.6,519.7 290.1,528.1 290.6,519.1 291.1,528.3 291.6,518.8 292.1,529.2 292.6,519.4 293.1,527.5 293.6,519.4 294.1,529.8 294.6,519.1 295.1,527.1 295.6,520.6 296.1,527 296.6,519.5 297.1,529.5 297.6,519.5 298.1,528.9 298.6,519.9 299.1,529.1 299.6,519.8 300.1,529.3 300.6,520.9 301.1,528.3 301.6,519.6 302.1,527.2 302.6,519.8 303.1,529.6 303.6,521.1 304.1,529.1 304.6,519.4 305.1,529.5 305.6,518.7 306.1,528.8 306.6,519.7 307.1,528.3 307.6,520.1 308.1,528.7 308.6,520.4 309.1,529.3 309.6,519.9 310.1,528.2 310.6,519.9 311.1,529 311.6,519 312.1,529.3 312.6,519.4 313.1,527.7 313.6,521.4 314.1,527.4 314.6,521.2 315.1,528.4 315.6,521.2 316.1,528.3 316.6,519.3 317.1,528.3 317.6,518.9 318.1,528 318.6,520 319.1,527.8 319.6,521 320.1,528.6 320.6,521 321.1,527.4 321.6,520.6 322.1,529.1 322.6,518.6 323.1,527.6 323.6,520.7 324.1,529.7 324.6,519.8 325.1,529.3 325.6,518.6 326.1,528.9 326.6,520.7 327.1,529.8 327.6,518.9 328.1,527 328.6,518.7 329.1,528.8 329.6,520.7 330.1,528.3 330.6,520.5 331.1,529.2 331.6,520.3 332.1,527.3 332.6,518.9 333.1,527.9 333.6,520.9 334.1,529 334.6,521 335.1,528.7 335.6,520.1 336.1,527.4 336.6,518.7 337.1,529 337.6,521.2 338.1,529.5 338.6,519.6 339.1,529.3 339.6,519.2 340.1,527.5 340.6,520.5 341.1,527.5 341.6,519.1 342.1,529.7 342.6,519.8 343.1,528.9 343.6,518.6 344.1,528.5 344.6,520.1 345.1,527.8 345.6,519.1 346.1,528.7 346.6,523 347.1,537.6 347.6,541.8 348.1,548 348.6,537.3 349.1,538.1 349.6,525.1 350.1,530.4 350.6,521.4 351.1,527.7 351.6,520.6 352.1,527.3 352.6,519.4 353.1,527.6 353.6,519.8 354.1,527.1 354.6,519.8 355.1,528 355.6,518.8 356.1,527.6 356.6,520.6 357.1,529.5 357.6,521.2 358.1,528.4 358.6,520 359.1,527.8 359.6,520.9 360.1,528.4 360.6,521.3 361.1,527 361.6,520.6 362.1,528.1 362.6,520.7 363.1,529 363.6,520.2 364.1,528.7 364.6,519.7 365.1,529 365.6,518.8 366.1,528.6 366.6,519.4 367.1,528.6 367.6,521.2 368.1,529.4 368.6,519.9 369.1,527.1 369.6,519.3 370.1,528.4 370.6,518.7 371.1,528.2 371.6,520.1 372.1,529.5 372.6,518.8 373.1,529.2 373.6,520.1" fill="none" stroke="#00ff00" stroke-width="2.5" stroke-linejoin="round"/><polyline points="26.6,520.3 27.1,528.1 27.6,519.7 28.1,527.9 28.6,520.6 29.1,528.4 29.6,520.4 30.1,527.5 30.6,521.9 31.1,527.6 31.6,519.7 32.1,527 32.6,521.6 33.1,527.2 33.6,520.6 34.1,528.3 34.6,521.7 35.1,526.8 35.6,519.8 36.1,528.4 36.6,520 37.1,527.6 37.6,520 38.1,525.5 38.6,519.6 39.1,528.4 39.6,520.6 40.1,526.5 40.6,518.1 41.1,527.9 41.6,518.7 42.1,527.6 42.6,520.4 43.1,527.3 43.6,518.2 44.1,525.1 44.6,518.4 45.1,527.3 45.6,518 46.1,527 46.6,520.6 47.1,525.8 47.6,519.6 48.1,525.9 48.6,520 49.1,527.9 49.6,519.1 50.1,527.1 50.6,520.5 51.1,527.5 51.6,518.2 52.1,526.4 52.6,519.3 53.1,525.4 53.6,520 54.1,527.2 54.6,520 55.1,526.3 55.6,518.8 56.1,526.4 56.6,519.5 57.1,526.7 57.6,520.4 58.1,526.2 58.6,520 59.1,527 59.6,519.3 60.1,528.3 60.6,519.4 61.1,525.7 61.6,519.2 62.1,527.2 62.6,518.9 63.1,528.8 63.6,522.1 64.1,526.9 64.6,522.7 65.1,529.2 65.6,522.1 66.1,529.7 66.6,523.2 67.1,529.9 67.6,523.7 68.1,529.2 68.6,522.6 69.1,529.4 69.6,524.4 70.1,530.9 70.6,522.5 71.1,531.3 71.6,522.4 72.1,530.8 72.6,524.7 73.1,529 73.6,521.8 74.1,528.7 74.6,521.2 75.1,528.2 75.6,522.3 76.1,527.8 76.6,521.7 77.1,527.8 77.6,521.4 78.1,528.6 78.6,519.6 79.1,528.8 79.6,520.4 80.1,527.4 80.6,520.5 81.1,527.8 81.6,520.7 82.1,527.5 82.6,520.3 83.1,527.2 83.6,519.9 84.1,528.4 84.6,519.1 85.1,529.2 85.6,520.3 86.1,527.2 86.6,521 87.1,528.6 87.6,520.4 88.1,529.8 88.6,522.7 89.1,527.7 89.6,521.5 90.1,529.9 90.6,522.5 91.1,528.7 91.6,521.4 92.1,527.2 92.6,520 93.1,527.9 93.6,519.3 94.1,522.9 94.6,517 95.1,501.6 95.6,497.6 96.1,501.3 96.6,513.1 97.1,519 97.6,520 98.1,527.7 98.6,520.9 99.1,527.5 99.6,519.6 100.1,525.6 100.6,519.7 101.1,527.8 101.6,520.2 102.1,527.1 102.6,520.9 103.1,526.5 103.6,521.2 104.1,529.3 104.6,520.2 105.1,528.1 105.6,520.5 106.1,529.2 106.6,520.8 107.1,528.5 107.6,521.5 108.1,527.5 108.6,522 109.1,529.1 109.6,521.5 110.1,526.5 110.6,518.4 111.1,526.7 111.6,518.7 112.1,525.2 112.6,520.2 113.1,526 113.6,518.7 114.1,527.5 114.6,518.1 115.1,526.8 115.6,520.3 116.1,527.9 116.6,521.3 117.1,527.4 117.6,520.7 118.1,526.6 118.6,522.3 119.1,529.6 119.6,519.8 120.1,527.1 120.6,519.8 121.1,529 121.6,523.1 122.1,528.4 122.6,521.4 123.1,527.6 123.6,520.5 124.1,527.1 124.6,521 125.1,526.4 125.6,521.1 126.1,527.5 126.6,522.6 127.1,527.9 127.6,522.1 128.1,528.1 128.6,520.4 129.1,528.1 129.6,522.7 130.1,527.8 130.6,520.7 131.1,527.4 131.6,522.3 132.1,527.3 132.6,519.2 133.1,527.9 133.6,519.5 134.1,527.1 134.6,521.2 135.1,528.6 135.6,519.7 136.1,526.9 136.6,519.7 137.1,526.9 137.6,521.3 138.1,527.5 138.6,520.5 139.1,527.3 139.6,521.3 140.1,527.6 140.6,522.2 141.1,526.9 141.6,519.6 142.1,526.7 142.6,519.5 143.1,527 143.6,519.7 144.1,525.3 144.6,519.5 145.1,527.5 145.6,519.5 146.1,527.3 146.6,520.4 147.1,527.4 147.6,520.2 148.1,529.3 148.6,520.9 149.1,528.4 149.6,521 150.1,528.4 150.6,520.1 151.1,527.4 151.6,520.9 152.1,527.9 152.6,520.1 153.1,527.4 153.6,521.8 154.1,528.3 154.6,520.8 155.1,526.9 155.6,521.4 156.1,528.2 156.6,521.3 157.1,529.7 157.6,521 158.1,529.3 158.6,521.2 159.1,527.7 159.6,521.5 160.1,527.8 160.6,522 161.1,528.3 161.6,520 162.1,527.9 162.6,519.8 163.1,527.7 163.6,521.9 164.1,528.5 164.6,520.3 165.1,528.9 165.6,521.4 166.1,528.8 166.6,520.1 167.1,528.9 167.6,519.5 168.1,527 168.6,520 169.1,526.9 169.6,520.3 170.1,528.2 170.6,520.7 171.1,528.8 171.6,521 172.1,526.9 172.6,519.7 173.1,526.7 173.6,520.3 174.1,526.7 174.6,519.5 175.1,526.2 175.6,519.1 176.1,527.5 176.6,519.1 177.1,527.9 177.6,523.6 178.1,529.2 178.6,542.3 179.1,549.3 179.6,547.6 180.1,535.9 180.6,527.9 181.1,527.3 181.6,519.3 182.1,527.1 182.6,520.4 183.1,527.1 183.6,519 184.1,526.8 184.6,519 185.1,526.3 185.6,521.2 186.1,525.8 186.6,519 187.1,526 187.6,519.4 188.1,526.6 188.6,520.6 189.1,527.5 189.6,520.1 190.1,526.2 190.6,521.9 191.1,527.7 191.6,521 192.1,527.5 192.6,520.6 193.1,527.1 193.6,522.6 194.1,529.6 194.6,521.3 195.1,529 195.6,520.6 196.1,529 196.6,520.4 197.1,527 197.6,522 198.1,528.8 198.6,520.9 199.1,530.1 199.6,522.2 200.1,529.3 200.6,522.6 201.1,528.1 201.6,522.6 202.1,529.9 202.6,521.3 203.1,527.7 203.6,522.1 204.1,528.6 204.6,521.2 205.1,528 205.6,520.6 206.1,526.2 206.6,520.6 207.1,525.5 207.6,517.6 208.1,525.7 208.6,520.1 209.1,527.5 209.6,520.7 210.1,527.5 210.6,518.7 211.1,528.3 211.6,522 212.1,528.2 212.6,519.6 213.1,527.9 213.6,520.3 214.1,526.6 214.6,520.7 215.1,528.8 215.6,521.7 216.1,529.6 216.6,522 217.1,528.3 217.6,521.2 218.1,530.1 218.6,520 219.1,529.9 219.6,521.8 220.1,528.2 220.6,521.5 221.1,528.9 221.6,522.8 222.1,528.9 222.6,520.7 223.1,528.4 223.6,520.8 224.1,529.6 224.6,521.1 225.1,529.9 225.6,519.8 226.1,526.2 226.6,519.8 227.1,527.8 227.6,520.4 228.1,527.2 228.6,521.5 229.1,528.1 229.6,519.7 230.1,527.8 230.6,519.9 231.1,527.9 231.6,519.9 232.1,527 232.6,519.5 233.1,526.2 233.6,518.1 234.1,526.8 234.6,519.1 235.1,524.7 235.6,519.1 236.1,525.8 236.6,520 237.1,526.5 237.6,520.8 238.1,527.6 238.6,522 239.1,527.4 239.6,521.7 240.1,527.4 240.6,520.6 241.1,527 241.6,520.7 242.1,528.8 242.6,522.6 243.1,529.7 243.6,521.8 244.1,528.6 244.6,523.7 245.1,527.9 245.6,520.1 246.1,528 246.6,521 247.1,528.5 247.6,522.7 248.1,527.7 248.6,520.3 249.1,528.7 249.6,521.7 250.1,529.7 250.6,521.6 251.1,528.2 251.6,520.7 252.1,528.9 252.6,520.9 253.1,528.8 253.6,521.4 254.1,526.6 254.6,520.2 255.1,528 255.6,521.1 256.1,528.3 256.6,521.2 257.1,528.8 257.6,521.9 258.1,528.7 258.6,519.6 259.1,527.3 259.6,521.5 260.1,527.4 260.6,521.7 261.1,528.2 261.6,519.7 262.1,508.8 262.6,497.3 263.1,497.6 263.6,507.4 264.1,517.2 264.6,520 265.1,526.1 265.6,518.6 266.1,526.4 266.6,520.7 267.1,527.5 267.6,520.2 268.1,527.2 268.6,519.1 269.1,526.8 269.6,520 270.1,527.3 270.6,520.4 271.1,528.1 271.6,519.9 272.1,528.7 272.6,520.3 273.1,527.2 273.6,521.7 274.1,529.1 274.6,521.1 275.1,530.1 275.6,521.7 276.1,528 276.6,523.1 277.1,528.4 277.6,521.9 278.1,527.8 278.6,522.1 279.1,529 279.6,522.1 280.1,527.2 280.6,520.4 281.1,528.8 281.6,522 282.1,529.9 282.6,521.7 283.1,529.6 283.6,522.3 284.1,529.3 284.6,520.6 285.1,528.1 285.6,521.8 286.1,529.6 286.6,520.8 287.1,529.4 287.6,522.3 288.1,527.5 288.6,521.9 289.1,528.3 289.6,522 290.1,530 290.6,522.1 291.1,527 291.6,519.7 292.1,526.9 292.6,518.9 293.1,526.7 293.6,520.1 294.1,527.8 294.6,520 295.1,529 295.6,521.3 296.1,527 296.6,520 297.1,527.1 297.6,519.7 298.1,527.8 298.6,521.9 299.1,528.3 299.6,519.5 300.1,527.2 300.6,520.5 301.1,526.5 301.6,520.2 302.1,527 302.6,521.8 303.1,527.8 303.6,521.3 304.1,529.6 304.6,521 305.1,526.8 305.6,521.2 306.1,527.1 306.6,519.8 307.1,528.3 307.6,520.2 308.1,527.7 308.6,521.7 309.1,526.8 309.6,521.3 310.1,528.9 310.6,521.1 311.1,527.6 311.6,521.5 312.1,526.5 312.6,519.5 313.1,526.4 313.6,518.6 314.1,527.8 314.6,521.4 315.1,526.4 315.6,520.3 316.1,526.7 316.6,520 317.1,527.4 317.6,521.2 318.1,528.3 318.6,523 319.1,529.1 319.6,520 320.1,527.1 320.6,521.5 321.1,529.5 321.6,522.8 322.1,527.3 322.6,520.8 323.1,529.6 323.6,519.3 324.1,526.5 324.6,521.3 325.1,526.2 325.6,521.7 326.1,527.7 326.6,519.5 327.1,528.4 327.6,521.1 328.1,527.1 328.6,520.6 329.1,527.2 329.6,522.8 330.1,527.4 330.6,521.7 331.1,527 331.6,519.3 332.1,529 332.6,521 333.1,528.1 333.6,521.4 334.1,529.7 334.6,521.9 335.1,529.8 335.6,520.4 336.1,527.5 336.6,521 337.1,529.3 337.6,521.5 338.1,528.7 338.6,520.2 339.1,527.2 339.6,521.1 340.1,527.2 340.6,520.5 341.1,526.7 341.6,519.7 342.1,528 342.6,520.5 343.1,529.1 343.6,521.5 344.1,528.7 344.6,520.8 345.1,528.2 345.6,535.6 346.1,550.9 346.6,550.6 347.1,542.7 347.6,531.5 348.1,527.7 348.6,520.4 349.1,527.4 349.6,522.6 350.1,527.8 350.6,521.5 351.1,528.3 351.6,520.4 352.1,527.7 352.6,521.1 353.1,528.1 353.6,520.5 354.1,526 354.6,521 355.1,527.8 355.6,520.7 356.1,528.7 356.6,521.7 357.1,527.8 357.6,521.8 358.1,528.1 358.6,521.4 359.1,526.1 359.6,520.5 360.1,528.7 360.6,521.8 361.1,530.3 361.6,521.1 362.1,528.2 362.6,522 363.1,528.4 363.6,522.6 364.1,528.9 364.6,521 365.1,529.6 365.6,522.2 366.1,526.9 366.6,520.1 367.1,527.8 367.6,520.8 368.1,528.8 368.6,521.3 369.1,526.9 369.6,519.4 370.1,526.5 370.6,519.6 371.1,525.9 371.6,520.3 372.1,527.8 372.6,521.7 373.1,527.4 373.6,519.5" fill="none" stroke="#0000ff" stroke-width="2.5" stroke-linejoin="round"/></g>
<g clip-path="url(#cBR)"><polyline points="401.8,512.8 402.3,525.5 402.8,512.4 403.3,528.2 403.8,507.2 404.3,528.4 404.8,507.2 405.3,525.4 405.8,511.6 406.3,530.6 406.8,510.1 407.3,530.6 407.8,509.6 408.3,525.2 408.8,512.2 409.3,528.7 409.8,508 410.3,528.7 410.8,508 411.3,526.3 411.8,512.5 412.3,526.5 412.8,511.5 413.3,529.8 413.8,510.1 414.3,529.9 414.8,509.6 415.3,525.3 415.8,511.5 416.3,527.8 416.8,507.5 417.3,527.5 417.8,507.5 418.3,525.8 418.8,512.9 419.3,526.5 419.8,510.3 420.3,530.5 420.8,509.8 421.3,530.5 421.8,511.7 422.3,525.5 422.8,508.1 423.3,528.3 423.8,508.1 424.3,527.8 424.8,513 425.3,525.7 425.8,509.9 426.3,530.5 426.8,509.7 427.3,530.5 427.8,513.1 428.3,525.3 428.8,512.5 429.3,528 429.8,506.9 430.3,528 430.8,507 431.3,525 431.8,512.3 432.3,529.9 432.8,510.6 433.3,529.9 433.8,509.8 434.3,525.2 434.8,513.1 435.3,524.9 435.8,508 436.3,527.5 436.8,508 437.3,528.1 437.8,512 438.3,525.6 438.8,509.9 439.3,530.9 439.8,509.6 440.3,531 440.8,512.7 441.3,525.7 441.8,512.4 442.3,528.3 442.8,506.9 443.3,528.6 443.8,506.8 444.3,526.5 444.8,513.2 445.3,531 445.8,510.4 446.3,531.1 446.8,510.1 447.3,526.5 447.8,513 448.3,525.7 448.8,511.7 449.3,527.9 449.8,507.7 450.3,528.4 450.8,507.7 451.3,525.2 451.8,512.6 452.3,530.3 452.8,509.5 453.3,530.4 453.8,509.4 454.3,526.2 454.8,512.1 455.3,528.5 455.8,511.5 456.3,528.5 456.8,507.3 457.3,525.2 457.8,507.3 458.3,526.6 458.8,512.6 459.3,530.9 459.8,509.9 460.3,530.9 460.8,509.4 461.3,526.6 461.8,512.1 462.3,527.9 462.8,507.9 463.3,528.2 463.8,507.9 464.3,525 464.8,511.6 465.3,529.9 465.8,510.1 466.3,529.9 466.8,509.6 467.3,526 467.8,511.6 468.3,528.1 468.8,512.3 469.3,528.2 469.8,507.6 470.3,519.8 470.8,497.1 471.3,507 471.8,492 472.3,502.7 472.8,477 473.3,498.4 473.8,485.2 474.3,504.1 474.8,501 475.3,517.9 475.8,507.4 476.3,526.5 476.8,500.4 477.3,514 477.8,495.6 478.3,498.5 478.8,485.5 479.3,509.3 479.8,494 480.3,517.3 480.8,503.6 481.3,519.3 481.8,507.5 482.3,518.3 482.8,494.1 483.3,508.6 483.8,489.5 484.3,507.3 484.8,500.5 485.3,520.1 485.8,502 486.3,521.8 486.8,500 487.3,511.3 487.8,500.2 488.3,510.9 488.8,502.7 489.3,517.6 489.8,498.8 490.3,521.3 490.8,501.6 491.3,519.3 491.8,506.2 492.3,523.6 492.8,503.2 493.3,522.5 493.8,501.8 494.3,516.1 494.8,506 495.3,521 495.8,501.6 496.3,522.6 496.8,503.1 497.3,521.3 497.8,509.6 498.3,527.3 498.8,507.6 499.3,527.6 499.8,508.1 500.3,523.5 500.8,509.7 501.3,524.6 501.8,506.5 502.3,527.3 502.8,507 503.3,528 503.8,512.4 504.3,526.1 504.8,509.3 505.3,530.4 505.8,509.5 506.3,530.4 506.8,513.2 507.3,525.3 507.8,513 508.3,527.5 508.8,507.5 509.3,527.5 509.8,507.5 510.3,525 510.8,512.9 511.3,530.6 511.8,509.2 512.3,530.7 512.8,509.5 513.3,525.1 513.8,512.4 514.3,526.4 514.8,506.8 515.3,528.1 515.8,506.8 516.3,528 516.8,512.9 517.3,526.1 517.8,512.6 518.3,531 518.8,510.3 519.3,531 519.8,510.3 520.3,526.2 520.8,513.1 521.3,528.7 521.8,512.7 522.3,528.5 522.8,506.9 523.3,524.8 523.8,507 524.3,525 524.8,511.7 525.3,531.2 525.8,510.5 526.3,531.1 526.8,509.9 527.3,526 527.8,511.9 528.3,527.8 528.8,507.1 529.3,528.5 529.8,507 530.3,524.7 530.8,512.7 531.3,525.1 531.8,509.3 532.3,530.7 532.8,509.7 533.3,530.7 533.8,511.8 534.3,525 534.8,506.8 535.3,528.4 535.8,506.8 536.3,528 536.8,512.2 537.3,525.1 537.8,511.8 538.3,530.4 538.8,510.4 539.3,530.3 539.8,510.3 540.3,524.8 540.8,511.6 541.3,528.8 541.8,507.1 542.3,528.4 542.8,507.1 543.3,525.4 543.8,512.2 544.3,525.9 544.8,509.4 545.3,531.1 545.8,510 546.3,531.1 546.8,513.1 547.3,525.3 547.8,512.2 548.3,528.5 548.8,507.5 549.3,528.7 549.8,507.5 550.3,526.6 550.8,511.5 551.3,530.3 551.8,509.9 552.3,530.3 552.8,509.4 553.3,525.5 553.8,513.1 554.3,532.1 554.8,513.6 555.3,536 555.8,518.5 556.3,538.4 556.8,531.3 557.3,542.8 557.8,536.2 558.3,553.6 558.8,536.9 559.3,556.2 559.8,536 560.3,546.7 560.8,536.6 561.3,547.6 561.8,526.4 562.3,545.2 562.8,523.5 563.3,538.2 563.8,528.2 564.3,537.6 564.8,522.7 565.3,541.9 565.8,521.2 566.3,540.8 566.8,524.2 567.3,535.1 567.8,517.2 568.3,536 568.8,516 569.3,535.7 569.8,518.6 570.3,532.4 570.8,517.4 571.3,535.2 571.8,515 572.3,534.5 572.8,513.9 573.3,530.1 573.8,515.5 574.3,531.4 574.8,510.9 575.3,530.9 575.8,510.3 576.3,528.4 576.8,514.5 577.3,531.1 577.8,511.2 578.3,530.4 578.8,510.8 579.3,526.5 579.8,511.4 580.3,525.7 580.8,507.7 581.3,527.5 581.8,507.7 582.3,528.3 582.8,512.6 583.3,526 583.8,511.7 584.3,529.9 584.8,510.2 585.3,530 585.8,510.5 586.3,525.4 586.8,512.8 587.3,527.7 587.8,507.2 588.3,528.5 588.8,507.2 589.3,525.5 589.8,513 590.3,525.7 590.8,512.7 591.3,530.1 591.8,509.4 592.3,530.1 592.8,509.9 593.3,526.3 593.8,511.6 594.3,528.1 594.8,507.8 595.3,528.4 595.8,507.9 596.3,526.6 596.8,511.8 597.3,529.8 597.8,509.8 598.3,530 598.8,509.2 599.3,524.9 599.8,512 600.3,526.4 600.8,507.3 601.3,528.4 601.8,507.3 602.3,527.6 602.8,513.1 603.3,526.4 603.8,510.4 604.3,529.9 604.8,509.7 605.3,529.8 605.8,511.8 606.3,525.1 606.8,512.2 607.3,527.5 607.8,507.6 608.3,527.5 608.8,507.7 609.3,524.8 609.8,511.3 610.3,530.3 610.8,510.2 611.3,530.2 611.8,509.7 612.3,525.7 612.8,512.1 613.3,524.8 613.8,512.5 614.3,528.3 614.8,507 615.3,528 615.8,506.8 616.3,525.8 616.8,512.8 617.3,530.8 617.8,509.9 618.3,530.8 618.8,509.6 619.3,525.2 619.8,511.9 620.3,527.6 620.8,507.3 621.3,528 621.8,507.3 622.3,526.6 622.8,512.6 623.3,525.6 623.8,511.4 624.3,531.2 624.8,510.5 625.3,531.2 625.8,509.6 626.3,526.3 626.8,512.6 627.3,527.8 627.8,507.4 628.3,528 628.8,507.4 629.3,525.5 629.8,511.8 630.3,525.4 630.8,511.7 631.3,530 631.8,509.4 632.3,530 632.8,509.4 633.3,524.9 633.8,511.9 634.3,527.7 634.8,507.5 635.3,528.4 635.8,507.5 636.3,526.1 636.8,509.3 637.3,519.1 637.8,493.5 638.3,505.7 638.8,480.4 639.3,490.2 639.8,486.3 640.3,500.6 640.8,488.6 641.3,514.1 641.8,498.5 642.3,525 642.8,514.6 643.3,530.5 643.8,502.5 644.3,516.7 644.8,489 645.3,500.7 645.8,495 646.3,507.9 646.8,502.2 647.3,519 647.8,502.1 648.3,522.1 648.8,498.2 649.3,510.9 649.8,499 650.3,514.8 650.8,496.6 651.3,518.5 651.8,499.7 652.3,516.3 652.8,504.3 653.3,513.9 653.8,502.9 654.3,515.6 654.8,494.9 655.3,517.4 655.8,497.2 656.3,517 656.8,506.3 657.3,523.8 657.8,504.5 658.3,524 658.8,503.8 659.3,519.2 659.8,506.5 660.3,520.9 660.8,501 661.3,520.1 661.8,501.1 662.3,518.7 662.8,506.3 663.3,525.5 663.8,505.1 664.3,526.7 664.8,505.9 665.3,522.4 665.8,509 666.3,523.4 666.8,511.2 667.3,526.1 667.8,505.4 668.3,526.2 668.8,505.6 669.3,524.2 669.8,511.7 670.3,530 670.8,509.3 671.3,530.1 671.8,509.3 672.3,524.4 672.8,512 673.3,526 673.8,507.1 674.3,528 674.8,507.4 675.3,527.5 675.8,513.2 676.3,525.3 676.8,510.1 677.3,531.1 677.8,510.4 678.3,531.3 678.8,511.8 679.3,524.8 679.8,512.1 680.3,527.7 680.8,508 681.3,527.7 681.8,508 682.3,526.3 682.8,511.5 683.3,530.8 683.8,509.7 684.3,530.8 684.8,510.2 685.3,525.6 685.8,513.2 686.3,528.2 686.8,511.5 687.3,527.5 687.8,507.6 688.3,525.9 688.8,507.6 689.3,524.8 689.8,512.4 690.3,530 690.8,510.1 691.3,530.1 691.8,510.6 692.3,525.8 692.8,512.3 693.3,528.2 693.8,507.1 694.3,528.2 694.8,507.1 695.3,526 695.8,512.7 696.3,526.4 696.8,512.8 697.3,531.2 697.8,509.8 698.3,531.1 698.8,509.2 699.3,526.4 699.8,507.5 700.3,527.9 700.8,507.5 701.3,527.8 701.8,513 702.3,526.4 702.8,512.4 703.3,530.5 703.8,510.4 704.3,530.5 704.8,510.3 705.3,526.6 705.8,513.1 706.3,527.7 706.8,506.7 707.3,527.6 707.8,506.8 708.3,524.9 708.8,512 709.3,530.5 709.8,509.7 710.3,530.5 710.8,509.8 711.3,525.4 711.8,511.9 712.3,526.6 712.8,512.9 713.3,528.4 713.8,507.1 714.3,528 714.8,507 715.3,525.7 715.8,512.2 716.3,530.9 716.8,509.7 717.3,530.9 717.8,509.7 718.3,526.1 718.8,512.8 719.3,525.2 719.8,507.1 720.3,530.1 720.8,511.3 721.3,534.1 721.8,521.6 722.3,535.4 722.8,526.7 723.3,545.4 723.8,528.2 724.3,550 724.8,532.8 725.3,548.5 725.8,541.8 726.3,554.9 726.8,534.5 727.3,551.6 727.8,531.4 728.3,545.3 728.8,534.7 729.3,548.8 729.8,529.1 730.3,546.6 730.8,527.9 731.3,539.4 731.8,529.5 732.3,539.4 732.8,522 733.3,541 733.8,521.1 734.3,540.8 734.8,527.5 735.3,536.7 735.8,523.3 736.3,542.3 736.8,522.4 737.3,541.5 737.8,524.3 738.3,534.8 738.8,522.9 739.3,537.3 739.8,516.2 740.3,536.2 740.8,514.8 741.3,531.1 741.8,518.4 742.3,530.3 742.8,514.5 743.3,534.9 743.8,512.7 744.3,533.4 744.8,512.9 745.3,526 745.8,512.8 746.3,528 746.8,508 747.3,527.5 747.8,508 748.3,526" fill="none" stroke="#ff0000" stroke-width="2.3" stroke-linejoin="round"/><polyline points="401.8,515.4 402.3,523.6 402.8,515.8 403.3,522.9 403.8,515.4 404.3,522.8 404.8,515.2 405.3,523.7 405.8,514.7 406.3,523.4 406.8,515.8 407.3,523.4 407.8,515.6 408.3,523.3 408.8,515.1 409.3,523.8 409.8,515.1 410.3,523 410.8,515.7 411.3,523.6 411.8,515.4 412.3,523 412.8,515.2 413.3,523.5 413.8,515.1 414.3,522.7 414.8,514.8 415.3,523.4 415.8,514.8 416.3,523.5 416.8,515 417.3,523 417.8,515.4 418.3,523.8 418.8,515.4 419.3,523.7 419.8,515.5 420.3,523.2 420.8,514.7 421.3,523.4 421.8,515.2 422.3,522.7 422.8,515.3 423.3,522.8 423.8,515.1 424.3,523.8 424.8,515.5 425.3,523.8 425.8,514.7 426.3,522.9 426.8,514.8 427.3,523.5 427.8,515.6 428.3,522.9 428.8,515.1 429.3,523.7 429.8,515.4 430.3,523.6 430.8,515 431.3,522.8 431.8,515 432.3,523 432.8,515.6 433.3,523.2 433.8,515.7 434.3,523.7 434.8,515.7 435.3,523.8 435.8,514.6 436.3,523.7 436.8,515.1 437.3,523.8 437.8,515.7 438.3,523.1 438.8,515.2 439.3,522.9 439.8,515 440.3,523.6 440.8,515.3 441.3,522.7 441.8,515.4 442.3,523.7 442.8,514.6 443.3,523.1 443.8,515.8 444.3,523.7 444.8,515 445.3,522.7 445.8,515.2 446.3,523.1 446.8,514.6 447.3,523.3 447.8,514.7 448.3,523.2 448.8,515.4 449.3,523.3 449.8,515.7 450.3,523.2 450.8,515.4 451.3,522.9 451.8,514.8 452.3,523.3 452.8,515 453.3,523.4 453.8,515.5 454.3,523 454.8,515.6 455.3,523.4 455.8,515.4 456.3,522.8 456.8,514.8 457.3,522.8 457.8,514.7 458.3,523.1 458.8,515 459.3,523.8 459.8,515.5 460.3,523.7 460.8,515.4 461.3,523.3 461.8,515.3 462.3,523.3 462.8,515 463.3,523.6 463.8,515.3 464.3,523.5 464.8,514.8 465.3,523.3 465.8,515.2 466.3,523.2 466.8,515.6 467.3,523.4 467.8,515.5 468.3,523.1 468.8,514.7 469.3,523 469.8,515.4 470.3,520.3 470.8,507.7 471.3,507.7 471.8,498.7 472.3,496.7 472.8,488.2 473.3,486.2 473.8,478.6 474.3,482.1 474.8,478 475.3,481.4 475.8,477.7 476.3,481.1 476.8,477.5 477.3,480.7 477.8,477.2 478.3,481.3 478.8,478.4 479.3,483 479.8,480.1 480.3,484.6 480.8,482.3 481.3,486.8 481.8,484.2 482.3,488.5 482.8,486 483.3,490.3 483.8,488 484.3,492.3 484.8,489.8 485.3,494.3 485.8,491.7 486.3,496.1 486.8,493.4 487.3,498.1 487.8,495.2 488.3,499.8 488.8,497 489.3,501.2 489.8,498.4 490.3,502.8 490.8,500.2 491.3,504.4 491.8,501.6 492.3,505.7 492.8,502.8 493.3,506.9 493.8,503.9 494.3,508.5 494.8,504.7 495.3,510.4 495.8,505.9 496.3,511.6 496.8,506.9 497.3,513 497.8,507.3 498.3,514.2 498.8,508.4 499.3,514.8 499.8,508.7 500.3,515.7 500.8,509.8 501.3,516.9 501.8,510.2 502.3,517.6 502.8,511.2 503.3,518.8 503.8,511.1 504.3,520 504.8,512 505.3,520 505.8,512.7 506.3,520.5 506.8,512.7 507.3,521.9 507.8,514.2 508.3,522.5 508.8,514.1 509.3,522.3 509.8,514.1 510.3,522.7 510.8,514.8 511.3,522.4 511.8,514.6 512.3,522.9 512.8,514.5 513.3,522.6 513.8,515.3 514.3,523.3 514.8,515.3 515.3,523.8 515.8,514.7 516.3,523.8 516.8,514.7 517.3,523.7 517.8,514.9 518.3,522.7 518.8,514.9 519.3,523.7 519.8,515.6 520.3,522.8 520.8,514.7 521.3,522.9 521.8,515.7 522.3,523.1 522.8,515.4 523.3,523 523.8,515.6 524.3,523.2 524.8,514.8 525.3,522.7 525.8,515.2 526.3,523.8 526.8,514.8 527.3,522.7 527.8,515.1 528.3,522.9 528.8,515.6 529.3,523.7 529.8,514.7 530.3,523.8 530.8,515.8 531.3,522.7 531.8,515.4 532.3,523.1 532.8,515.7 533.3,523.7 533.8,515.2 534.3,523.8 534.8,515.7 535.3,523.2 535.8,515.7 536.3,523.8 536.8,514.7 537.3,522.8 537.8,515.4 538.3,523.8 538.8,515.1 539.3,523.1 539.8,515.1 540.3,523.2 540.8,514.8 541.3,522.8 541.8,515.1 542.3,523.7 542.8,515.7 543.3,523 543.8,515.3 544.3,523.4 544.8,514.8 545.3,523.3 545.8,515.7 546.3,523.8 546.8,515.6 547.3,523.6 547.8,515.7 548.3,522.8 548.8,515 549.3,523.1 549.8,514.8 550.3,522.8 550.8,515.7 551.3,522.8 551.8,515.3 552.3,522.9 552.8,515.6 553.3,523.2 553.8,517.7 554.3,530.4 554.8,528.7 555.3,537.6 555.8,538.8 556.3,547 556.8,548 557.3,556.3 557.8,557.4 558.3,564.1 558.8,559.5 559.3,561.7 559.8,557.1 560.3,559.9 560.8,555 561.3,557.2 561.8,552.8 562.3,555.1 562.8,550.5 563.3,552.9 563.8,548.4 564.3,550.8 564.8,546.9 565.3,549.3 565.8,545.2 566.3,547.8 566.8,543.7 567.3,546.1 567.8,541.8 568.3,544.7 568.8,540.4 569.3,543.2 569.8,538.7 570.3,541.4 570.8,536.9 571.3,540 571.8,535.8 572.3,538.5 572.8,534.4 573.3,537 573.8,532.4 574.3,535.9 574.8,530.9 575.3,534.5 575.8,529.3 576.3,533.9 576.8,527.2 577.3,532.5 577.8,525.4 578.3,531.8 578.8,524.5 579.3,530.6 579.8,523.2 580.3,529.9 580.8,522.4 581.3,529.1 581.8,522.1 582.3,529.5 582.8,520.8 583.3,528.5 583.8,520.2 584.3,528.4 584.8,520.2 585.3,528.2 585.8,519.1 586.3,527.1 586.8,518.5 587.3,526.6 587.8,518.8 588.3,526.8 588.8,517.7 589.3,525.6 589.8,517.7 590.3,525.2 590.8,517.1 591.3,524.9 591.8,516.6 592.3,525.5 592.8,517 593.3,525.2 593.8,516.6 594.3,524.6 594.8,515.8 595.3,523.6 595.8,516.6 596.3,523.7 596.8,515.7 597.3,523.9 597.8,515.8 598.3,522.8 598.8,515.8 599.3,522.7 599.8,515.5 600.3,523.8 600.8,515.3 601.3,523 601.8,515.6 602.3,523.2 602.8,515.5 603.3,522.9 603.8,515.3 604.3,523.2 604.8,514.7 605.3,523.2 605.8,515.7 606.3,522.8 606.8,515 607.3,523.3 607.8,515.1 608.3,523.8 608.8,515.4 609.3,522.9 609.8,515.3 610.3,523.8 610.8,514.8 611.3,523.3 611.8,514.9 612.3,523 612.8,515.3 613.3,522.9 613.8,515.1 614.3,523.6 614.8,515.1 615.3,523.7 615.8,515.5 616.3,523.6 616.8,515 617.3,523.7 617.8,515.1 618.3,523 618.8,515.3 619.3,523.5 619.8,515.4 620.3,523.8 620.8,515 621.3,523.8 621.8,515.3 622.3,523.3 622.8,514.9 623.3,523.8 623.8,515.7 624.3,523.7 624.8,514.7 625.3,523.1 625.8,515.4 626.3,522.8 626.8,515 627.3,523.2 627.8,515.4 628.3,522.9 628.8,514.8 629.3,522.7 629.8,514.7 630.3,522.8 630.8,515.3 631.3,523 631.8,515.7 632.3,522.8 632.8,515.6 633.3,522.7 633.8,515.5 634.3,523 634.8,515.1 635.3,523.7 635.8,515.2 636.3,523.7 636.8,512.5 637.3,515.3 637.8,505.1 638.3,504.3 638.8,496.2 639.3,495 639.8,486.8 640.3,488 640.8,482.8 641.3,485.2 641.8,480.5 642.3,482.8 642.8,478.4 643.3,482.1 643.8,477.9 644.3,481.3 644.8,477.6 645.3,481 645.8,478.1 646.3,482.8 646.8,480.7 647.3,485.3 647.8,483.2 648.3,487.9 648.8,485.7 649.3,490.4 649.8,487.8 650.3,492.6 650.8,490.3 651.3,494.4 651.8,492 652.3,496.6 652.8,493.5 653.3,498.1 653.8,495.2 654.3,499.7 654.8,497.4 655.3,501.5 655.8,498.6 656.3,503.1 656.8,500 657.3,504.4 657.8,501.2 658.3,505.4 658.8,502.3 659.3,506.8 659.8,503.4 660.3,508 660.8,504.7 661.3,509.5 661.8,505.1 662.3,511.2 662.8,505.9 663.3,512 663.8,507.2 664.3,512.8 664.8,507.1 665.3,513.8 665.8,508 666.3,514.8 666.8,508.7 667.3,515.8 667.8,509.4 668.3,516.6 668.8,509.6 669.3,517.5 669.8,510.6 670.3,518.9 670.8,511.4 671.3,518.7 671.8,512.2 672.3,519.3 672.8,512.4 673.3,520.4 673.8,513.2 674.3,521.4 674.8,513.1 675.3,521.7 675.8,513.2 676.3,521.8 676.8,514.4 677.3,523.1 677.8,514.3 678.3,523.5 678.8,515.5 679.3,523.7 679.8,515.8 680.3,522.8 680.8,515.2 681.3,522.7 681.8,515.6 682.3,523.8 682.8,515.4 683.3,522.8 683.8,514.8 684.3,522.9 684.8,514.8 685.3,523.1 685.8,515.5 686.3,523.6 686.8,515.5 687.3,523.8 687.8,515.7 688.3,522.8 688.8,515.6 689.3,523.8 689.8,515.5 690.3,523 690.8,515.4 691.3,522.7 691.8,515.1 692.3,523.2 692.8,514.8 693.3,523.7 693.8,515.2 694.3,523.4 694.8,514.7 695.3,523.1 695.8,514.7 696.3,523.3 696.8,515.7 697.3,522.9 697.8,514.9 698.3,523.8 698.8,515.8 699.3,522.9 699.8,514.9 700.3,523.7 700.8,515.6 701.3,523.1 701.8,515.1 702.3,523.4 702.8,515.3 703.3,523.4 703.8,514.7 704.3,523.7 704.8,515.4 705.3,523.8 705.8,515.5 706.3,523.1 706.8,515.3 707.3,523.7 707.8,515.7 708.3,523.7 708.8,514.9 709.3,523.2 709.8,515.3 710.3,523.6 710.8,514.9 711.3,523.4 711.8,515.7 712.3,523.2 712.8,515.4 713.3,523.2 713.8,514.8 714.3,522.9 714.8,514.7 715.3,523.1 715.8,515 716.3,523.5 716.8,514.9 717.3,523.6 717.8,515.5 718.3,523.4 718.8,515.4 719.3,523.8 719.8,515.6 720.3,526.4 720.8,524.4 721.3,534.1 721.8,534.9 722.3,542.8 722.8,543.7 723.3,551.9 723.8,553.1 724.3,560.8 724.8,560 725.3,562.2 725.8,557.6 726.3,560 726.8,555.4 727.3,557.9 727.8,553.1 728.3,555.4 728.8,550.7 729.3,553.3 729.8,548.6 730.3,551.8 730.8,547.6 731.3,550.4 731.8,546.4 732.3,549.2 732.8,545.4 733.3,548.2 733.8,544 734.3,547.4 734.8,542.8 735.3,546.2 735.8,542.1 736.3,544.7 736.8,540.8 737.3,544.1 737.8,539.9 738.3,542.7 738.8,538.7 739.3,541.8 739.8,537.4 740.3,540.4 740.8,535.6 741.3,538.2 741.8,533.8 742.3,536.9 742.8,531.9 743.3,534.9 743.8,529.4 744.3,534 744.8,527.8 745.3,532.3 745.8,525.4 746.3,531.2 746.8,523.9 747.3,530.6 747.8,522.4 748.3,529.1" fill="none" stroke="#00ff00" stroke-width="2.5" stroke-linejoin="round"/><polyline points="401.8,514 402.3,524 402.8,515.8 403.3,525.4 403.8,516.5 404.3,525.2 404.8,514.2 405.3,523.4 405.8,514.5 406.3,522 406.8,513.5 407.3,520.9 407.8,512.5 408.3,523.4 408.8,513.8 409.3,522.9 409.8,514 410.3,522.4 410.8,512.1 411.3,520.9 411.8,511.9 412.3,521.5 412.8,513.2 413.3,523.9 413.8,512.9 414.3,522.9 414.8,515.5 415.3,525.3 415.8,515.9 416.3,524.8 416.8,515 417.3,524.3 417.8,514.4 418.3,523.1 418.8,515.3 419.3,524.5 419.8,517 420.3,525.4 420.8,517.3 421.3,524.6 421.8,516.9 422.3,525.7 422.8,517.3 423.3,526.2 423.8,515.8 424.3,525.8 424.8,518.5 425.3,527.4 425.8,516.8 426.3,526.5 426.8,517.5 427.3,527.8 427.8,517.9 428.3,526 428.8,517.5 429.3,526.6 429.8,516.9 430.3,527.1 430.8,518.2 431.3,527.1 431.8,518 432.3,525.9 432.8,518.5 433.3,527.5 433.8,518.6 434.3,526.4 434.8,516.7 435.3,523.5 435.8,515.7 436.3,525.4 436.8,514.9 437.3,522.3 437.8,514.5 438.3,522.4 438.8,513.9 439.3,521.3 439.8,511.6 440.3,523 440.8,513.7 441.3,523.9 441.8,513.8 442.3,522.8 442.8,514.5 443.3,523.6 443.8,514.8 444.3,523.2 444.8,515.2 445.3,525 445.8,515.8 446.3,526.4 446.8,515.4 447.3,523.4 447.8,515.3 448.3,522.8 448.8,514.4 449.3,521.4 449.8,512.7 450.3,522.7 450.8,512.7 451.3,520.6 451.8,511 452.3,520.4 452.8,513.9 453.3,521.2 453.8,512.9 454.3,521.8 454.8,513.7 455.3,522.4 455.8,513.6 456.3,521.7 456.8,513.4 457.3,521.2 457.8,513 458.3,521.6 458.8,513.3 459.3,523.9 459.8,516.1 460.3,525.1 460.8,516.9 461.3,525.3 461.8,516.2 462.3,526.4 462.8,519.2 463.3,527.3 463.8,518.3 464.3,527.7 464.8,519.7 465.3,527.7 465.8,518.5 466.3,528.7 466.8,518.1 467.3,527.9 467.8,517.9 468.3,525.3 468.8,515.9 469.3,524.5 469.8,515.5 470.3,515.8 470.8,502.7 471.3,496.4 471.8,485.2 472.3,480.5 472.8,468.2 473.3,463.3 473.8,451.3 474.3,448.8 474.8,444.3 475.3,449.4 475.8,444 476.3,447 476.8,444.5 477.3,448.6 477.8,446.5 478.3,451.9 478.8,447.8 479.3,451.6 479.8,449.4 480.3,455 480.8,450.6 481.3,455.1 481.8,452.4 482.3,457.2 482.8,455.6 483.3,460.7 483.8,457.3 484.3,463.3 484.8,461.5 485.3,466.7 485.8,463.6 486.3,468.7 486.8,465.9 487.3,471.9 487.8,468.4 488.3,473.3 488.8,472 489.3,478.6 489.8,476.7 490.3,480.6 490.8,478.9 491.3,483.1 491.8,481.4 492.3,487.5 492.8,485.3 493.3,491.5 493.8,488 494.3,492.8 494.8,490.5 495.3,496.3 495.8,492.9 496.3,497.1 496.8,493.7 497.3,499.1 497.8,497.4 498.3,502.4 498.8,498.1 499.3,502 499.8,499.4 500.3,505 500.8,502.2 501.3,505.8 501.8,502.1 502.3,505.3 502.8,501.1 503.3,507.5 503.8,503.3 504.3,508.5 504.8,503.7 505.3,509 505.8,504.7 506.3,512.2 506.8,505.5 507.3,513.9 507.8,507.1 508.3,515 508.8,508.5 509.3,514.9 509.8,507.2 510.3,514.7 510.8,507 511.3,515.7 511.8,507.1 512.3,515.8 512.8,508.8 513.3,517.7 513.8,508.5 514.3,518.8 514.8,511.8 515.3,519.5 515.8,511 516.3,518.6 516.8,511.6 517.3,519.8 517.8,510.4 518.3,520.3 518.8,510.3 519.3,519.5 519.8,511.3 520.3,520.6 520.8,511.1 521.3,520.6 521.8,513.2 522.3,521 522.8,513.6 523.3,521.2 523.8,512.1 524.3,520.5 524.8,512.5 525.3,521 525.8,510.5 526.3,521.1 526.8,512.1 527.3,521.3 527.8,513.2 528.3,523.6 528.8,515.9 529.3,525.1 529.8,517.6 530.3,527.6 530.8,519.1 531.3,528 531.8,517.8 532.3,526.3 532.8,517.3 533.3,524.9 533.8,516.8 534.3,525.4 534.8,515.4 535.3,524.5 535.8,516.4 536.3,525.3 536.8,515.9 537.3,525.1 537.8,516.9 538.3,524.4 538.8,514.7 539.3,523.7 539.8,516.3 540.3,523.8 540.8,514.9 541.3,522.1 541.8,514.3 542.3,524.7 542.8,514.4 543.3,523.2 543.8,515.4 544.3,523.1 544.8,514.6 545.3,525 545.8,514.1 546.3,523.3 546.8,513.5 547.3,523.6 547.8,516.3 548.3,524.3 548.8,515.1 549.3,523.4 549.8,514 550.3,522.4 550.8,513.8 551.3,523.4 551.8,514.2 552.3,523.2 552.8,514.9 553.3,524.1 553.8,520 554.3,535.9 554.8,539.3 555.3,551.2 555.8,556.5 556.3,569.7 556.8,574.7 557.3,584.4 557.8,587.7 558.3,597.1 558.8,600.3 559.3,605.4 559.8,600.4 560.3,603.1 560.8,598.1 561.3,600.7 561.8,593.1 562.3,593.6 562.8,585.8 563.3,584.9 563.8,576.5 564.3,578.2 564.8,573.1 565.3,576.8 565.8,571.5 566.3,575.5 566.8,571.1 567.3,573.7 567.8,567.3 568.3,569.5 568.8,564.9 569.3,567 569.8,561.1 570.3,563.2 570.8,556.4 571.3,557.3 571.8,550.6 572.3,554.9 572.8,548 573.3,549.7 573.8,544.2 574.3,549 574.8,543.3 575.3,547.1 575.8,541.5 576.3,545.7 576.8,540.8 577.3,543.8 577.8,539.4 578.3,540.9 578.8,537 579.3,540.5 579.8,534.9 580.3,537.8 580.8,534.6 581.3,536.9 581.8,533.4 582.3,535.8 582.8,530.6 583.3,534.6 583.8,530.2 584.3,535.5 584.8,529.2 585.3,532.7 585.8,526.5 586.3,530.2 586.8,525.1 587.3,531.6 587.8,525 588.3,530.7 588.8,523.8 589.3,530.6 589.8,523.1 590.3,529.4 590.8,521.6 591.3,529.4 591.8,520.8 592.3,529.9 592.8,522.4 593.3,530.8 593.8,521.9 594.3,529.5 594.8,520.8 595.3,529.7 595.8,519.7 596.3,527.3 596.8,518.6 597.3,527.3 597.8,518.6 598.3,526.7 598.8,518.1 599.3,524.7 599.8,516.5 600.3,526 600.8,516 601.3,524.9 601.8,516.3 602.3,525.2 602.8,516.8 603.3,526 603.8,517.5 604.3,525.9 604.8,518.3 605.3,527.5 605.8,516.8 606.3,525.1 606.8,516.1 607.3,525.6 607.8,517.2 608.3,526.9 608.8,517.8 609.3,526.2 609.8,514.8 610.3,525 610.8,516.3 611.3,525.3 611.8,515.8 612.3,524.9 612.8,516.7 613.3,524.9 613.8,515.5 614.3,525.7 614.8,514.9 615.3,523.3 615.8,513.4 616.3,522 616.8,514.5 617.3,522.1 617.8,512.3 618.3,521.6 618.8,513.5 619.3,522 619.8,514.5 620.3,522 620.8,511.9 621.3,521.6 621.8,512.1 622.3,520.5 622.8,510.7 623.3,520.8 623.8,511.5 624.3,521.7 624.8,512.9 625.3,522 625.8,512.6 626.3,520.9 626.8,511.5 627.3,518.9 627.8,512.1 628.3,519.7 628.8,510.3 629.3,518.4 629.8,509.2 630.3,518.7 630.8,509.4 631.3,518.3 631.8,509.3 632.3,518.7 632.8,509.7 633.3,518.2 633.8,510.8 634.3,521.7 634.8,511.3 635.3,519.8 635.8,512.2 636.3,520.8 636.8,507 637.3,503.1 637.8,490.2 638.3,483.8 638.8,470.5 639.3,468 639.8,454.9 640.3,450.7 640.8,440.2 641.3,440 641.8,437.2 642.3,443 642.8,441.6 643.3,447.3 643.8,445.9 644.3,453.4 644.8,451.7 645.3,459 645.8,456.6 646.3,461.3 646.8,457 647.3,460.4 647.8,455.6 648.3,458.6 648.8,455.5 649.3,459.9 649.8,456 650.3,460.9 650.8,456.8 651.3,463.6 651.8,462.7 652.3,469.2 652.8,466 653.3,472.7 653.8,470.1 654.3,475.6 654.8,472.9 655.3,479.1 655.8,474.8 656.3,481.1 656.8,478.5 657.3,481.9 657.8,478.9 658.3,483.8 658.8,480.5 659.3,485.2 659.8,483.3 660.3,487.8 660.8,485.4 661.3,489.8 661.8,485.5 662.3,491.8 662.8,488.4 663.3,494.7 663.8,492.5 664.3,497.1 664.8,492.9 665.3,497.3 665.8,494.8 666.3,498.5 666.8,496.1 667.3,501.4 667.8,496.7 668.3,501.8 668.8,499.3 669.3,504.7 669.8,501.9 670.3,505.7 670.8,502.8 671.3,508.4 671.8,505.9 672.3,510 672.8,505.5 673.3,511.2 673.8,507.4 674.3,512.3 674.8,506.5 675.3,511.3 675.8,506.2 676.3,512.2 676.8,506.8 677.3,513.6 677.8,507.8 678.3,517.1 678.8,509.2 679.3,517.5 679.8,511.6 680.3,519.8 680.8,512.9 681.3,522.8 681.8,513.4 682.3,523.1 682.8,514.2 683.3,522.9 683.8,513.2 684.3,521.9 684.8,514.6 685.3,523.8 685.8,513.9 686.3,522.7 686.8,515.5 687.3,524.3 687.8,515.7 688.3,523.6 688.8,514.4 689.3,524.8 689.8,516.3 690.3,524.9 690.8,515.9 691.3,525.1 691.8,516.5 692.3,525.6 692.8,515.1 693.3,524 693.8,514.2 694.3,522.9 694.8,514 695.3,522.8 695.8,513.7 696.3,523 696.8,512.8 697.3,522.1 697.8,512.8 698.3,523.2 698.8,515.3 699.3,523.3 699.8,513.3 700.3,522.5 700.8,512.7 701.3,521.8 701.8,514 702.3,521.6 702.8,512.4 703.3,519.9 703.8,510.8 704.3,519.4 704.8,510.4 705.3,520 705.8,511.6 706.3,520.3 706.8,510.6 707.3,520.2 707.8,511.5 708.3,520.8 708.8,512.1 709.3,522.4 709.8,513.4 710.3,523.1 710.8,514 711.3,522 711.8,514.3 712.3,522.5 712.8,512.6 713.3,520.6 713.8,512.4 714.3,521.6 714.8,511.3 715.3,522.7 715.8,514.5 716.3,522.1 716.8,512.2 717.3,520.5 717.8,511.9 718.3,520.8 718.8,511.6 719.3,519.7 719.8,511.5 720.3,528.3 720.8,528.3 721.3,542.3 721.8,545.3 722.3,557.7 722.8,559.9 723.3,569.8 723.8,573.6 724.3,584.5 724.8,586.9 725.3,598.6 725.8,593.2 726.3,594.8 726.8,588.4 727.3,590.3 727.8,584.7 728.3,585.1 728.8,577 729.3,577.7 729.8,572.1 730.3,572.6 730.8,567.3 731.3,570.6 731.8,565 732.3,568.1 732.8,564.5 733.3,569.2 733.8,563.8 734.3,566.4 734.8,561.3 735.3,565 735.8,560.8 736.3,563.6 736.8,557.9 737.3,560.5 737.8,555.6 738.3,558.1 738.8,552 739.3,555.5 739.8,551 740.3,553.4 740.8,547.6 741.3,549.8 741.8,543.7 742.3,546.3 742.8,540.3 743.3,541.2 743.8,536.4 744.3,538.9 744.8,532 745.3,533.9 745.8,528.3 746.3,533.6 746.8,526.1 747.3,533.8 747.8,525.5 748.3,531.7" fill="none" stroke="#0000ff" stroke-width="2.5" stroke-linejoin="round"/></g>
<line x1="47.4" y1="272.0" x2="74.5" y2="272.0" stroke="#ff0000" stroke-width="2.6"/><text x="80.69" y="278.00" textLength="6.28" lengthAdjust="spacingAndGlyphs" style="font-family:'Liberation Serif',serif;font-style:normal;font-weight:normal;font-size:22.00px" fill="#ff0000">:</text><text x="88.65" y="278.00" style="font-family:'Liberation Serif',serif;font-style:italic;font-weight:normal;font-size:22.70px" fill="#ff0000">i</text><text x="93.78" y="283.60" style="font-family:'Liberation Serif',serif;font-style:italic;font-weight:normal;font-size:12.00px" fill="#ff0000">q</text><path d="M110.0,257.0Q100.6,271.6 110.0,286.3Q104.1,271.6 110.0,257.0Z" fill="#ff0000" stroke="#ff0000" stroke-width="0.4"/><text stroke="#ff0000" stroke-width="0.45" x="113.79" y="273.70" textLength="16.95" lengthAdjust="spacingAndGlyphs" style="font-family:'Liberation Serif',serif;font-style:normal;font-weight:normal;font-size:17.80px" fill="#ff0000">@</text><text x="133.12" y="278.00" style="font-family:'Liberation Serif',serif;font-style:italic;font-weight:normal;font-size:25.00px" fill="#ff0000">&#969;</text><text x="145.59" y="283.40" textLength="20.43" lengthAdjust="spacingAndGlyphs" style="font-family:'Liberation Serif',serif;font-style:italic;font-weight:normal;font-size:12.80px" fill="#ff0000">rpm</text><path d="M172.2 269.6H183.6M172.2 274.4H183.6" stroke="#ff0000" stroke-width="1.45"/><text x="186.59" y="278.00" textLength="30.21" lengthAdjust="spacingAndGlyphs" style="font-family:'Liberation Serif',serif;font-style:normal;font-weight:normal;font-size:22.00px" fill="#ff0000">500</text><text x="216.46" y="278.00" textLength="35.48" lengthAdjust="spacingAndGlyphs" style="font-family:'Liberation Serif',serif;font-style:normal;font-weight:normal;font-size:22.00px" fill="#ff0000">rpm</text><path d="M254.2,257.2Q264.6,271.6 254.2,286.0Q261.1,271.6 254.2,257.2Z" fill="#ff0000" stroke="#ff0000" stroke-width="0.4"/>
<line x1="271.9" y1="271.8" x2="299.1" y2="271.8" stroke="#00ff00" stroke-width="2.6"/><text x="305.58" y="278.00" textLength="4.59" lengthAdjust="spacingAndGlyphs" style="font-family:'Liberation Serif',serif;font-style:normal;font-weight:normal;font-size:22.00px" fill="#00ff00">:</text><text x="312.55" y="278.00" style="font-family:'Liberation Serif',serif;font-style:italic;font-weight:normal;font-size:22.70px" fill="#00ff00">i</text><text x="317.48" y="283.60" style="font-family:'Liberation Serif',serif;font-style:italic;font-weight:normal;font-size:12.00px" fill="#00ff00">q</text><path d="M334.4,257.2Q324.6,271.5 334.4,285.8Q328.1,271.5 334.4,257.2Z" fill="#00ff00" stroke="#00ff00" stroke-width="0.4"/><text stroke="#00ff00" stroke-width="0.45" x="336.69" y="273.70" textLength="16.84" lengthAdjust="spacingAndGlyphs" style="font-family:'Liberation Serif',serif;font-style:normal;font-weight:normal;font-size:17.80px" fill="#00ff00">@</text><text x="355.23" y="278.00" style="font-family:'Liberation Serif',serif;font-style:italic;font-weight:normal;font-size:25.00px" fill="#00ff00">&#969;</text><text x="367.33" y="283.40" textLength="18.75" lengthAdjust="spacingAndGlyphs" style="font-family:'Liberation Serif',serif;font-style:italic;font-weight:normal;font-size:12.80px" fill="#00ff00">rpm</text><path d="M392.1 269.6H402.5M392.1 274.4H402.5" stroke="#00ff00" stroke-width="1.45"/><text x="405.60" y="278.00" textLength="37.76" lengthAdjust="spacingAndGlyphs" style="font-family:'Liberation Serif',serif;font-style:normal;font-weight:normal;font-size:22.00px" fill="#00ff00">1000</text><text x="443.09" y="278.00" textLength="32.62" lengthAdjust="spacingAndGlyphs" style="font-family:'Liberation Serif',serif;font-style:normal;font-weight:normal;font-size:22.00px" fill="#00ff00">rpm</text><path d="M476.7,257.2Q485.9,271.5 476.7,285.8Q482.4,271.5 476.7,257.2Z" fill="#00ff00" stroke="#00ff00" stroke-width="0.4"/>
<line x1="490.4" y1="272.0" x2="516.9" y2="272.0" stroke="#0000ff" stroke-width="2.6"/><text x="521.63" y="278.00" textLength="5.80" lengthAdjust="spacingAndGlyphs" style="font-family:'Liberation Serif',serif;font-style:normal;font-weight:normal;font-size:22.00px" fill="#0000ff">:</text><text x="528.75" y="278.00" style="font-family:'Liberation Serif',serif;font-style:italic;font-weight:normal;font-size:22.70px" fill="#0000ff">i</text><text x="533.88" y="283.60" style="font-family:'Liberation Serif',serif;font-style:italic;font-weight:normal;font-size:12.00px" fill="#0000ff">q</text><path d="M550.3,257.2Q540.7,271.5 550.3,285.8Q544.2,271.5 550.3,257.2Z" fill="#0000ff" stroke="#0000ff" stroke-width="0.4"/><text stroke="#0000ff" stroke-width="0.45" x="553.01" y="273.70" textLength="16.50" lengthAdjust="spacingAndGlyphs" style="font-family:'Liberation Serif',serif;font-style:normal;font-weight:normal;font-size:17.80px" fill="#0000ff">@</text><text x="572.42" y="278.00" style="font-family:'Liberation Serif',serif;font-style:italic;font-weight:normal;font-size:25.00px" fill="#0000ff">&#969;</text><text x="584.32" y="283.40" textLength="19.27" lengthAdjust="spacingAndGlyphs" style="font-family:'Liberation Serif',serif;font-style:italic;font-weight:normal;font-size:12.80px" fill="#0000ff">rpm</text><path d="M609.5 269.6H621.4M609.5 274.4H621.4" stroke="#0000ff" stroke-width="1.45"/><text x="624.93" y="278.00" textLength="38.85" lengthAdjust="spacingAndGlyphs" style="font-family:'Liberation Serif',serif;font-style:normal;font-weight:normal;font-size:22.00px" fill="#0000ff">2000</text><text x="663.48" y="278.00" textLength="33.44" lengthAdjust="spacingAndGlyphs" style="font-family:'Liberation Serif',serif;font-style:normal;font-weight:normal;font-size:22.00px" fill="#0000ff">rpm</text><path d="M698.0,257.2Q707.6,271.5 698.0,285.8Q704.1,271.5 698.0,257.2Z" fill="#0000ff" stroke="#0000ff" stroke-width="0.4"/>
<line x1="63.5" y1="653.5" x2="90.5" y2="653.5" stroke="#ff0000" stroke-width="2.6"/><text x="96.37" y="659.50" textLength="5.31" lengthAdjust="spacingAndGlyphs" style="font-family:'Liberation Serif',serif;font-style:normal;font-weight:normal;font-size:22.00px" fill="#ff0000">:</text><text x="103.95" y="659.50" style="font-family:'Liberation Serif',serif;font-style:italic;font-weight:normal;font-size:22.70px" fill="#ff0000">i</text><text x="108.94" y="665.10" style="font-family:'Liberation Serif',serif;font-style:italic;font-weight:normal;font-size:12.00px" fill="#ff0000">d</text><path d="M125.4,638.0Q114.0,652.5 125.4,666.9Q117.5,652.5 125.4,638.0Z" fill="#ff0000" stroke="#ff0000" stroke-width="0.4"/><text stroke="#ff0000" stroke-width="0.45" x="128.50" y="655.20" textLength="16.72" lengthAdjust="spacingAndGlyphs" style="font-family:'Liberation Serif',serif;font-style:normal;font-weight:normal;font-size:17.80px" fill="#ff0000">@</text><text x="147.23" y="659.50" style="font-family:'Liberation Serif',serif;font-style:italic;font-weight:normal;font-size:25.00px" fill="#ff0000">&#969;</text><text x="159.82" y="664.90" textLength="19.38" lengthAdjust="spacingAndGlyphs" style="font-family:'Liberation Serif',serif;font-style:italic;font-weight:normal;font-size:12.80px" fill="#ff0000">rpm</text><path d="M184.6 651.0H196.1M184.6 655.9H196.1" stroke="#ff0000" stroke-width="1.45"/><text x="199.00" y="659.50" textLength="30.00" lengthAdjust="spacingAndGlyphs" style="font-family:'Liberation Serif',serif;font-style:normal;font-weight:normal;font-size:22.00px" fill="#ff0000">500</text><text x="228.72" y="659.50" textLength="30.99" lengthAdjust="spacingAndGlyphs" style="font-family:'Liberation Serif',serif;font-style:normal;font-weight:normal;font-size:22.00px" fill="#ff0000">rpm</text><path d="M261.5,639.0Q270.1,653.1 261.5,667.3Q266.6,653.1 261.5,639.0Z" fill="#ff0000" stroke="#ff0000" stroke-width="0.4"/>
<line x1="277.6" y1="653.5" x2="304.5" y2="653.5" stroke="#00ff00" stroke-width="2.6"/><text x="310.31" y="659.50" textLength="4.83" lengthAdjust="spacingAndGlyphs" style="font-family:'Liberation Serif',serif;font-style:normal;font-weight:normal;font-size:22.00px" fill="#00ff00">:</text><text x="316.75" y="659.50" style="font-family:'Liberation Serif',serif;font-style:italic;font-weight:normal;font-size:22.70px" fill="#00ff00">i</text><text x="321.64" y="665.10" style="font-family:'Liberation Serif',serif;font-style:italic;font-weight:normal;font-size:12.00px" fill="#00ff00">d</text><path d="M338.6,638.8Q328.4,653.2 338.6,667.6Q331.9,653.2 338.6,638.8Z" fill="#00ff00" stroke="#00ff00" stroke-width="0.4"/><text stroke="#00ff00" stroke-width="0.45" x="341.03" y="655.20" textLength="16.16" lengthAdjust="spacingAndGlyphs" style="font-family:'Liberation Serif',serif;font-style:normal;font-weight:normal;font-size:17.80px" fill="#00ff00">@</text><text x="359.73" y="659.50" style="font-family:'Liberation Serif',serif;font-style:italic;font-weight:normal;font-size:25.00px" fill="#00ff00">&#969;</text><text x="371.82" y="664.90" textLength="19.27" lengthAdjust="spacingAndGlyphs" style="font-family:'Liberation Serif',serif;font-style:italic;font-weight:normal;font-size:12.80px" fill="#00ff00">rpm</text><path d="M397.0 651.0H407.3M397.0 655.9H407.3" stroke="#00ff00" stroke-width="1.45"/><text x="409.60" y="659.50" textLength="37.65" lengthAdjust="spacingAndGlyphs" style="font-family:'Liberation Serif',serif;font-style:normal;font-weight:normal;font-size:22.00px" fill="#00ff00">1000</text><text x="447.00" y="659.50" textLength="32.22" lengthAdjust="spacingAndGlyphs" style="font-family:'Liberation Serif',serif;font-style:normal;font-weight:normal;font-size:22.00px" fill="#00ff00">rpm</text><path d="M480.3,638.3Q489.9,653.0 480.3,667.6Q486.4,653.0 480.3,638.3Z" fill="#00ff00" stroke="#00ff00" stroke-width="0.4"/>
<line x1="493.1" y1="653.5" x2="520.0" y2="653.5" stroke="#0000ff" stroke-width="2.6"/><text x="524.43" y="659.50" textLength="5.80" lengthAdjust="spacingAndGlyphs" style="font-family:'Liberation Serif',serif;font-style:normal;font-weight:normal;font-size:22.00px" fill="#0000ff">:</text><text x="531.35" y="659.50" style="font-family:'Liberation Serif',serif;font-style:italic;font-weight:normal;font-size:22.70px" fill="#0000ff">i</text><text x="536.64" y="665.10" style="font-family:'Liberation Serif',serif;font-style:italic;font-weight:normal;font-size:12.00px" fill="#0000ff">d</text><path d="M553.2,638.8Q543.2,653.1 553.2,667.4Q546.7,653.1 553.2,638.8Z" fill="#0000ff" stroke="#0000ff" stroke-width="0.4"/><text stroke="#0000ff" stroke-width="0.45" x="555.50" y="655.20" textLength="16.72" lengthAdjust="spacingAndGlyphs" style="font-family:'Liberation Serif',serif;font-style:normal;font-weight:normal;font-size:17.80px" fill="#0000ff">@</text><text x="574.72" y="659.50" style="font-family:'Liberation Serif',serif;font-style:italic;font-weight:normal;font-size:25.00px" fill="#0000ff">&#969;</text><text x="585.83" y="664.90" textLength="19.06" lengthAdjust="spacingAndGlyphs" style="font-family:'Liberation Serif',serif;font-style:italic;font-weight:normal;font-size:12.80px" fill="#0000ff">rpm</text><path d="M610.8 651.0H621.7M610.8 655.9H621.7" stroke="#0000ff" stroke-width="1.45"/><text x="625.55" y="659.50" textLength="37.81" lengthAdjust="spacingAndGlyphs" style="font-family:'Liberation Serif',serif;font-style:normal;font-weight:normal;font-size:22.00px" fill="#0000ff">2000</text><text x="663.09" y="659.50" textLength="32.62" lengthAdjust="spacingAndGlyphs" style="font-family:'Liberation Serif',serif;font-style:normal;font-weight:normal;font-size:22.00px" fill="#0000ff">rpm</text><path d="M696.7,638.8Q704.3,653.2 696.7,667.7Q700.8,653.2 696.7,638.8Z" fill="#0000ff" stroke="#0000ff" stroke-width="0.4"/>
<path d="M28.5 4.3H373.0M28.5 310.4H373.0M128.6 310.4v-3.5M128.6 4.3v3.5M228.7 310.4v-3.5M228.7 4.3v3.5M328.7 310.4v-3.5M328.7 4.3v3.5M28.5 220.1h3.5M373.0 220.1h-3.5M28.5 129.8h3.5M373.0 129.8h-3.5M28.5 39.5h3.5M373.0 39.5h-3.5" stroke="#444444" stroke-width="1.3" fill="none"/><path d="M28.5 3.7V311.0" stroke="#444444" stroke-width="1.25"/><path d="M373.0 3.7V311.0" stroke="#404040" stroke-width="1.7"/>
<path d="M402.7 4.4H747.5M402.7 310.4H747.5M503.0 310.4v-3.5M503.0 4.4v3.5M603.3 310.4v-3.5M603.3 4.4v3.5M703.7 310.4v-3.5M703.7 4.4v3.5M402.7 220.0h3.5M747.5 220.0h-3.5M402.7 129.7h3.5M747.5 129.7h-3.5M402.7 39.3h3.5M747.5 39.3h-3.5" stroke="#444444" stroke-width="1.3" fill="none"/><path d="M402.5 3.8V311.0" stroke="#858585" stroke-width="1.15"/><path d="M747.5 3.8V311.0" stroke="#444444" stroke-width="1.4"/>
<path d="M27.6 370.6H373.0M27.6 677.5H373.0M127.9 677.5v-3.5M127.9 370.6v3.5M228.2 677.5v-3.5M228.2 370.6v3.5M328.6 677.5v-3.5M328.6 370.6v3.5M27.6 626.5h3.5M373.0 626.5h-3.5M27.6 575.3h3.5M373.0 575.3h-3.5M27.6 524.2h3.5M373.0 524.2h-3.5M27.6 473.1h3.5M373.0 473.1h-3.5M27.6 421.9h3.5M373.0 421.9h-3.5" stroke="#444444" stroke-width="1.3" fill="none"/><path d="M27.6 370.0V678.1" stroke="#444444" stroke-width="1.25"/><path d="M373.0 370.0V678.1" stroke="#404040" stroke-width="1.7"/>
<path d="M402.8 366.4H747.5M402.8 673.5H747.5M502.9 673.5v-3.5M502.9 366.4v3.5M603.0 673.5v-3.5M603.0 366.4v3.5M703.1 673.5v-3.5M703.1 366.4v3.5M402.8 622.3h3.5M747.5 622.3h-3.5M402.8 571.2h3.5M747.5 571.2h-3.5M402.8 520.0h3.5M747.5 520.0h-3.5M402.8 468.8h3.5M747.5 468.8h-3.5M402.8 417.7h3.5M747.5 417.7h-3.5" stroke="#444444" stroke-width="1.3" fill="none"/><path d="M402.5 365.8V674.1" stroke="#858585" stroke-width="1.15"/><path d="M747.5 365.8V674.1" stroke="#444444" stroke-width="1.4"/>
<path d="M373 1.8V5M373 368.4V371M747.5 2V5" stroke="#444444" stroke-width="1.4"/>
<path d="M748.6 2V311M748.6 366V674" stroke="#cfcfcf" stroke-width="0.9"/>
<rect x="0" y="360" width="36.9" height="24.4" fill="#fff"/>
<rect x="374.2" y="356" width="32.3" height="26.2" fill="#fff"/>
<g style="font-family:'Liberation Sans',sans-serif;font-size:17.4px" fill="#262626" text-anchor="end"><text x="21.6" y="317.3">5</text><text x="21.6" y="227.0">10</text><text x="21.6" y="136.7">15</text><text x="21.6" y="46.4">20</text></g>
<g style="font-family:'Liberation Sans',sans-serif;font-size:17.4px" fill="#262626" text-anchor="end"><text x="396.0" y="317.3">5</text><text x="396.0" y="226.9">10</text><text x="396.0" y="136.6">15</text><text x="396.0" y="46.2">20</text></g>
<g style="font-family:'Liberation Sans',sans-serif;font-size:17.4px" fill="#262626" text-anchor="end"><text x="20.8" y="684.5">-6</text><text x="20.8" y="633.4">-4</text><text x="20.8" y="582.2">-2</text><text x="20.8" y="531.1">0</text><text x="20.8" y="480.0">2</text><text x="20.8" y="428.8">4</text></g>
<g style="font-family:'Liberation Sans',sans-serif;font-size:17.4px" fill="#262626" text-anchor="end"><text x="395.8" y="680.4">-6</text><text x="395.8" y="629.2">-4</text><text x="395.8" y="578.1">-2</text><text x="395.8" y="526.9">0</text><text x="395.8" y="475.7">2</text><text x="395.8" y="424.6">4</text></g>
<g style="font-family:'Liberation Sans',sans-serif;font-size:17.2px" fill="#262626" text-anchor="middle"><text x="27.9" y="334.8">0.2</text><text x="128.0" y="334.8">0.4</text><text x="228.1" y="334.8">0.6</text><text x="328.1" y="334.8">0.8</text></g>
<g style="font-family:'Liberation Sans',sans-serif;font-size:17.2px" fill="#262626" text-anchor="middle"><text x="402.1" y="335.2">0.2</text><text x="502.4" y="335.2">0.4</text><text x="602.7" y="335.2">0.6</text><text x="703.1" y="335.2">0.8</text></g>
<g style="font-family:'Liberation Sans',sans-serif;font-size:17.2px" fill="#262626" text-anchor="middle"><text x="27.0" y="702.3">0.2</text><text x="127.3" y="702.3">0.4</text><text x="227.6" y="702.3">0.6</text><text x="328.0" y="702.3">0.8</text></g>
<g style="font-family:'Liberation Sans',sans-serif;font-size:17.2px" fill="#262626" text-anchor="middle"><text x="402.2" y="698.0">0.2</text><text x="502.3" y="698.0">0.4</text><text x="602.4" y="698.0">0.6</text><text x="702.5" y="698.0">0.8</text></g>
<text x="187.42" y="358.50" textLength="83.05" lengthAdjust="spacingAndGlyphs" style="font-family:'Liberation Sans',sans-serif;font-style:normal;font-weight:normal;font-size:18.60px" fill="#262626">Time(sec)</text>
<text x="561.52" y="358.40" textLength="84.58" lengthAdjust="spacingAndGlyphs" style="font-family:'Liberation Sans',sans-serif;font-style:normal;font-weight:normal;font-size:18.60px" fill="#262626">Time(sec)</text>
<text x="187.12" y="726.20" textLength="83.56" lengthAdjust="spacingAndGlyphs" style="font-family:'Liberation Sans',sans-serif;font-style:normal;font-weight:normal;font-size:18.60px" fill="#262626">Time(sec)</text>
<text x="561.32" y="722.50" textLength="83.97" lengthAdjust="spacingAndGlyphs" style="font-family:'Liberation Sans',sans-serif;font-style:normal;font-weight:normal;font-size:18.60px" fill="#262626">Time(sec)</text>
<text x="96.33" y="19.80" textLength="230.30" lengthAdjust="spacingAndGlyphs" style="font-family:'Liberation Serif',serif;font-style:normal;font-weight:bold;font-size:23.00px" fill="#000">&lt;Proposed Controller&gt;</text>
<text x="504.86" y="20.30" textLength="161.04" lengthAdjust="spacingAndGlyphs" style="font-family:'Liberation Serif',serif;font-style:normal;font-weight:bold;font-size:23.00px" fill="#000">&lt;FL Controller&gt;</text>
<text x="88.82" y="389.50" textLength="231.82" lengthAdjust="spacingAndGlyphs" style="font-family:'Liberation Serif',serif;font-style:normal;font-weight:bold;font-size:23.00px" fill="#000">&lt;Proposed Controller&gt;</text>
<text x="495.36" y="389.40" textLength="161.14" lengthAdjust="spacingAndGlyphs" style="font-family:'Liberation Serif',serif;font-style:normal;font-weight:bold;font-size:23.00px" fill="#000">&lt;FL Controller&gt;</text>
<text x="-0.29" y="13.60" textLength="25.75" lengthAdjust="spacingAndGlyphs" style="font-family:'Liberation Serif',serif;font-style:normal;font-weight:bold;font-size:18.00px" fill="#000">[A]</text>
<text x="373.65" y="16.80" textLength="26.87" lengthAdjust="spacingAndGlyphs" style="font-family:'Liberation Serif',serif;font-style:normal;font-weight:bold;font-size:18.00px" fill="#000">[A]</text>
<text x="5.67" y="378.60" textLength="26.53" lengthAdjust="spacingAndGlyphs" style="font-family:'Liberation Serif',serif;font-style:normal;font-weight:bold;font-size:18.00px" fill="#000">[A]</text>
<text x="375.45" y="376.00" textLength="26.76" lengthAdjust="spacingAndGlyphs" style="font-family:'Liberation Serif',serif;font-style:normal;font-weight:bold;font-size:18.30px" fill="#000">[A]</text>
</svg></body></html>
